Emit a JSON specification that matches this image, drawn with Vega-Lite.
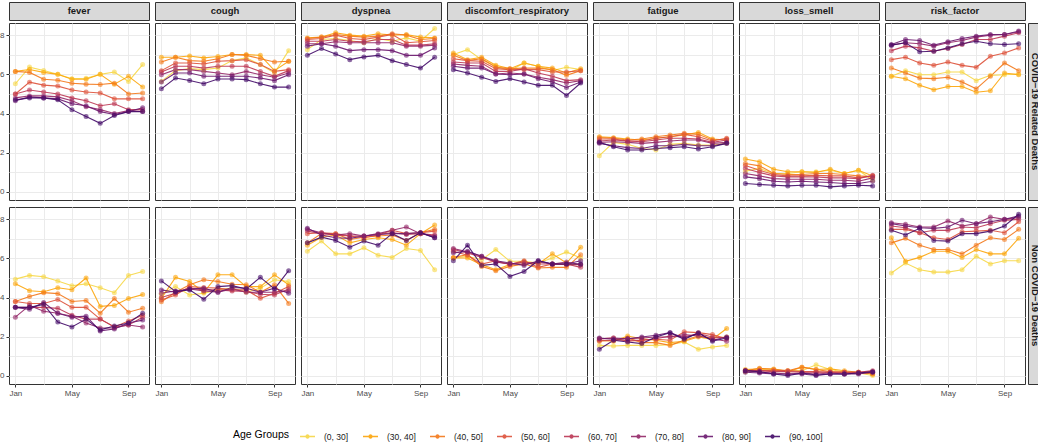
{
"$schema":"https://vega.github.io/schema/vega-lite/v6.json",
"padding":{"left":-8,"top":1,"right":0,"bottom":4},
"spacing":1,
"datasets":{
"syms":[{"sym":"fever"},{"sym":"cough"},{"sym":"dyspnea"},{"sym":"discomfort_respiratory"},{"sym":"fatigue"},{"sym":"loss_smell"},{"sym":"risk_factor"}],
"grps":[{"grp":"C","label":"COVID−19 Related Deaths"},{"grp":"N","label":"Non COVID−19 Deaths"}],
"d":[
{"sym":"fever","grp":"C","age":"(0, 30]","mo":1,"v":0.552},{"sym":"fever","grp":"C","age":"(0, 30]","mo":2,"v":0.637},{"sym":"fever","grp":"C","age":"(0, 30]","mo":3,"v":0.62},{"sym":"fever","grp":"C","age":"(0, 30]","mo":4,"v":0.6},{"sym":"fever","grp":"C","age":"(0, 30]","mo":5,"v":0.578},{"sym":"fever","grp":"C","age":"(0, 30]","mo":6,"v":0.58},{"sym":"fever","grp":"C","age":"(0, 30]","mo":7,"v":0.6},{"sym":"fever","grp":"C","age":"(0, 30]","mo":8,"v":0.612},{"sym":"fever","grp":"C","age":"(0, 30]","mo":9,"v":0.564},{"sym":"fever","grp":"C","age":"(0, 30]","mo":10,"v":0.65},
{"sym":"fever","grp":"C","age":"(30, 40]","mo":1,"v":0.615},{"sym":"fever","grp":"C","age":"(30, 40]","mo":2,"v":0.625},{"sym":"fever","grp":"C","age":"(30, 40]","mo":3,"v":0.61},{"sym":"fever","grp":"C","age":"(30, 40]","mo":4,"v":0.6},{"sym":"fever","grp":"C","age":"(30, 40]","mo":5,"v":0.575},{"sym":"fever","grp":"C","age":"(30, 40]","mo":6,"v":0.575},{"sym":"fever","grp":"C","age":"(30, 40]","mo":7,"v":0.6},{"sym":"fever","grp":"C","age":"(30, 40]","mo":8,"v":0.55},{"sym":"fever","grp":"C","age":"(30, 40]","mo":9,"v":0.59},{"sym":"fever","grp":"C","age":"(30, 40]","mo":10,"v":0.535},
{"sym":"fever","grp":"C","age":"(40, 50]","mo":1,"v":0.615},{"sym":"fever","grp":"C","age":"(40, 50]","mo":2,"v":0.61},{"sym":"fever","grp":"C","age":"(40, 50]","mo":3,"v":0.575},{"sym":"fever","grp":"C","age":"(40, 50]","mo":4,"v":0.57},{"sym":"fever","grp":"C","age":"(40, 50]","mo":5,"v":0.555},{"sym":"fever","grp":"C","age":"(40, 50]","mo":6,"v":0.55},{"sym":"fever","grp":"C","age":"(40, 50]","mo":7,"v":0.548},{"sym":"fever","grp":"C","age":"(40, 50]","mo":8,"v":0.555},{"sym":"fever","grp":"C","age":"(40, 50]","mo":9,"v":0.5},{"sym":"fever","grp":"C","age":"(40, 50]","mo":10,"v":0.505},
{"sym":"fever","grp":"C","age":"(50, 60]","mo":1,"v":0.5},{"sym":"fever","grp":"C","age":"(50, 60]","mo":2,"v":0.56},{"sym":"fever","grp":"C","age":"(50, 60]","mo":3,"v":0.545},{"sym":"fever","grp":"C","age":"(50, 60]","mo":4,"v":0.54},{"sym":"fever","grp":"C","age":"(50, 60]","mo":5,"v":0.52},{"sym":"fever","grp":"C","age":"(50, 60]","mo":6,"v":0.51},{"sym":"fever","grp":"C","age":"(50, 60]","mo":7,"v":0.505},{"sym":"fever","grp":"C","age":"(50, 60]","mo":8,"v":0.475},{"sym":"fever","grp":"C","age":"(50, 60]","mo":9,"v":0.475},{"sym":"fever","grp":"C","age":"(50, 60]","mo":10,"v":0.475},
{"sym":"fever","grp":"C","age":"(60, 70]","mo":1,"v":0.5},{"sym":"fever","grp":"C","age":"(60, 70]","mo":2,"v":0.52},{"sym":"fever","grp":"C","age":"(60, 70]","mo":3,"v":0.51},{"sym":"fever","grp":"C","age":"(60, 70]","mo":4,"v":0.5},{"sym":"fever","grp":"C","age":"(60, 70]","mo":5,"v":0.48},{"sym":"fever","grp":"C","age":"(60, 70]","mo":6,"v":0.465},{"sym":"fever","grp":"C","age":"(60, 70]","mo":7,"v":0.44},{"sym":"fever","grp":"C","age":"(60, 70]","mo":8,"v":0.45},{"sym":"fever","grp":"C","age":"(60, 70]","mo":9,"v":0.42},{"sym":"fever","grp":"C","age":"(60, 70]","mo":10,"v":0.42},
{"sym":"fever","grp":"C","age":"(70, 80]","mo":1,"v":0.48},{"sym":"fever","grp":"C","age":"(70, 80]","mo":2,"v":0.49},{"sym":"fever","grp":"C","age":"(70, 80]","mo":3,"v":0.49},{"sym":"fever","grp":"C","age":"(70, 80]","mo":4,"v":0.485},{"sym":"fever","grp":"C","age":"(70, 80]","mo":5,"v":0.465},{"sym":"fever","grp":"C","age":"(70, 80]","mo":6,"v":0.435},{"sym":"fever","grp":"C","age":"(70, 80]","mo":7,"v":0.42},{"sym":"fever","grp":"C","age":"(70, 80]","mo":8,"v":0.4},{"sym":"fever","grp":"C","age":"(70, 80]","mo":9,"v":0.415},{"sym":"fever","grp":"C","age":"(70, 80]","mo":10,"v":0.41},
{"sym":"fever","grp":"C","age":"(80, 90]","mo":1,"v":0.465},{"sym":"fever","grp":"C","age":"(80, 90]","mo":2,"v":0.485},{"sym":"fever","grp":"C","age":"(80, 90]","mo":3,"v":0.48},{"sym":"fever","grp":"C","age":"(80, 90]","mo":4,"v":0.475},{"sym":"fever","grp":"C","age":"(80, 90]","mo":5,"v":0.45},{"sym":"fever","grp":"C","age":"(80, 90]","mo":6,"v":0.44},{"sym":"fever","grp":"C","age":"(80, 90]","mo":7,"v":0.41},{"sym":"fever","grp":"C","age":"(80, 90]","mo":8,"v":0.395},{"sym":"fever","grp":"C","age":"(80, 90]","mo":9,"v":0.41},{"sym":"fever","grp":"C","age":"(80, 90]","mo":10,"v":0.43},
{"sym":"fever","grp":"C","age":"(90, 100]","mo":1,"v":0.47},{"sym":"fever","grp":"C","age":"(90, 100]","mo":2,"v":0.48},{"sym":"fever","grp":"C","age":"(90, 100]","mo":3,"v":0.48},{"sym":"fever","grp":"C","age":"(90, 100]","mo":4,"v":0.47},{"sym":"fever","grp":"C","age":"(90, 100]","mo":5,"v":0.42},{"sym":"fever","grp":"C","age":"(90, 100]","mo":6,"v":0.385},{"sym":"fever","grp":"C","age":"(90, 100]","mo":7,"v":0.35},{"sym":"fever","grp":"C","age":"(90, 100]","mo":8,"v":0.39},{"sym":"fever","grp":"C","age":"(90, 100]","mo":9,"v":0.41},{"sym":"fever","grp":"C","age":"(90, 100]","mo":10,"v":0.41},
{"sym":"fever","grp":"N","age":"(0, 30]","mo":1,"v":0.494},{"sym":"fever","grp":"N","age":"(0, 30]","mo":2,"v":0.513},{"sym":"fever","grp":"N","age":"(0, 30]","mo":3,"v":0.506},{"sym":"fever","grp":"N","age":"(0, 30]","mo":4,"v":0.484},{"sym":"fever","grp":"N","age":"(0, 30]","mo":5,"v":0.46},{"sym":"fever","grp":"N","age":"(0, 30]","mo":6,"v":0.47},{"sym":"fever","grp":"N","age":"(0, 30]","mo":7,"v":0.45},{"sym":"fever","grp":"N","age":"(0, 30]","mo":8,"v":0.425},{"sym":"fever","grp":"N","age":"(0, 30]","mo":9,"v":0.513},{"sym":"fever","grp":"N","age":"(0, 30]","mo":10,"v":0.533},
{"sym":"fever","grp":"N","age":"(30, 40]","mo":1,"v":0.47},{"sym":"fever","grp":"N","age":"(30, 40]","mo":2,"v":0.435},{"sym":"fever","grp":"N","age":"(30, 40]","mo":3,"v":0.43},{"sym":"fever","grp":"N","age":"(30, 40]","mo":4,"v":0.45},{"sym":"fever","grp":"N","age":"(30, 40]","mo":5,"v":0.44},{"sym":"fever","grp":"N","age":"(30, 40]","mo":6,"v":0.5},{"sym":"fever","grp":"N","age":"(30, 40]","mo":7,"v":0.355},{"sym":"fever","grp":"N","age":"(30, 40]","mo":8,"v":0.36},{"sym":"fever","grp":"N","age":"(30, 40]","mo":9,"v":0.395},{"sym":"fever","grp":"N","age":"(30, 40]","mo":10,"v":0.415},
{"sym":"fever","grp":"N","age":"(40, 50]","mo":1,"v":0.38},{"sym":"fever","grp":"N","age":"(40, 50]","mo":2,"v":0.405},{"sym":"fever","grp":"N","age":"(40, 50]","mo":3,"v":0.425},{"sym":"fever","grp":"N","age":"(40, 50]","mo":4,"v":0.42},{"sym":"fever","grp":"N","age":"(40, 50]","mo":5,"v":0.38},{"sym":"fever","grp":"N","age":"(40, 50]","mo":6,"v":0.385},{"sym":"fever","grp":"N","age":"(40, 50]","mo":7,"v":0.32},{"sym":"fever","grp":"N","age":"(40, 50]","mo":8,"v":0.395},{"sym":"fever","grp":"N","age":"(40, 50]","mo":9,"v":0.325},{"sym":"fever","grp":"N","age":"(40, 50]","mo":10,"v":0.345},
{"sym":"fever","grp":"N","age":"(50, 60]","mo":1,"v":0.38},{"sym":"fever","grp":"N","age":"(50, 60]","mo":2,"v":0.37},{"sym":"fever","grp":"N","age":"(50, 60]","mo":3,"v":0.37},{"sym":"fever","grp":"N","age":"(50, 60]","mo":4,"v":0.39},{"sym":"fever","grp":"N","age":"(50, 60]","mo":5,"v":0.35},{"sym":"fever","grp":"N","age":"(50, 60]","mo":6,"v":0.35},{"sym":"fever","grp":"N","age":"(50, 60]","mo":7,"v":0.29},{"sym":"fever","grp":"N","age":"(50, 60]","mo":8,"v":0.25},{"sym":"fever","grp":"N","age":"(50, 60]","mo":9,"v":0.28},{"sym":"fever","grp":"N","age":"(50, 60]","mo":10,"v":0.31},
{"sym":"fever","grp":"N","age":"(60, 70]","mo":1,"v":0.35},{"sym":"fever","grp":"N","age":"(60, 70]","mo":2,"v":0.35},{"sym":"fever","grp":"N","age":"(60, 70]","mo":3,"v":0.35},{"sym":"fever","grp":"N","age":"(60, 70]","mo":4,"v":0.345},{"sym":"fever","grp":"N","age":"(60, 70]","mo":5,"v":0.31},{"sym":"fever","grp":"N","age":"(60, 70]","mo":6,"v":0.29},{"sym":"fever","grp":"N","age":"(60, 70]","mo":7,"v":0.29},{"sym":"fever","grp":"N","age":"(60, 70]","mo":8,"v":0.25},{"sym":"fever","grp":"N","age":"(60, 70]","mo":9,"v":0.26},{"sym":"fever","grp":"N","age":"(60, 70]","mo":10,"v":0.3},
{"sym":"fever","grp":"N","age":"(70, 80]","mo":1,"v":0.3},{"sym":"fever","grp":"N","age":"(70, 80]","mo":2,"v":0.36},{"sym":"fever","grp":"N","age":"(70, 80]","mo":3,"v":0.33},{"sym":"fever","grp":"N","age":"(70, 80]","mo":4,"v":0.32},{"sym":"fever","grp":"N","age":"(70, 80]","mo":5,"v":0.305},{"sym":"fever","grp":"N","age":"(70, 80]","mo":6,"v":0.27},{"sym":"fever","grp":"N","age":"(70, 80]","mo":7,"v":0.245},{"sym":"fever","grp":"N","age":"(70, 80]","mo":8,"v":0.245},{"sym":"fever","grp":"N","age":"(70, 80]","mo":9,"v":0.26},{"sym":"fever","grp":"N","age":"(70, 80]","mo":10,"v":0.25},
{"sym":"fever","grp":"N","age":"(80, 90]","mo":1,"v":0.35},{"sym":"fever","grp":"N","age":"(80, 90]","mo":2,"v":0.34},{"sym":"fever","grp":"N","age":"(80, 90]","mo":3,"v":0.375},{"sym":"fever","grp":"N","age":"(80, 90]","mo":4,"v":0.32},{"sym":"fever","grp":"N","age":"(80, 90]","mo":5,"v":0.3},{"sym":"fever","grp":"N","age":"(80, 90]","mo":6,"v":0.305},{"sym":"fever","grp":"N","age":"(80, 90]","mo":7,"v":0.23},{"sym":"fever","grp":"N","age":"(80, 90]","mo":8,"v":0.24},{"sym":"fever","grp":"N","age":"(80, 90]","mo":9,"v":0.27},{"sym":"fever","grp":"N","age":"(80, 90]","mo":10,"v":0.285},
{"sym":"fever","grp":"N","age":"(90, 100]","mo":1,"v":0.35},{"sym":"fever","grp":"N","age":"(90, 100]","mo":2,"v":0.35},{"sym":"fever","grp":"N","age":"(90, 100]","mo":3,"v":0.365},{"sym":"fever","grp":"N","age":"(90, 100]","mo":4,"v":0.275},{"sym":"fever","grp":"N","age":"(90, 100]","mo":5,"v":0.25},{"sym":"fever","grp":"N","age":"(90, 100]","mo":6,"v":0.29},{"sym":"fever","grp":"N","age":"(90, 100]","mo":7,"v":0.235},{"sym":"fever","grp":"N","age":"(90, 100]","mo":8,"v":0.255},{"sym":"fever","grp":"N","age":"(90, 100]","mo":9,"v":0.27},{"sym":"fever","grp":"N","age":"(90, 100]","mo":10,"v":0.32},
{"sym":"cough","grp":"C","age":"(0, 30]","mo":1,"v":0.564},{"sym":"cough","grp":"C","age":"(0, 30]","mo":2,"v":0.619},{"sym":"cough","grp":"C","age":"(0, 30]","mo":3,"v":0.629},{"sym":"cough","grp":"C","age":"(0, 30]","mo":4,"v":0.624},{"sym":"cough","grp":"C","age":"(0, 30]","mo":5,"v":0.632},{"sym":"cough","grp":"C","age":"(0, 30]","mo":6,"v":0.67},{"sym":"cough","grp":"C","age":"(0, 30]","mo":7,"v":0.684},{"sym":"cough","grp":"C","age":"(0, 30]","mo":8,"v":0.65},{"sym":"cough","grp":"C","age":"(0, 30]","mo":9,"v":0.607},{"sym":"cough","grp":"C","age":"(0, 30]","mo":10,"v":0.721},
{"sym":"cough","grp":"C","age":"(30, 40]","mo":1,"v":0.687},{"sym":"cough","grp":"C","age":"(30, 40]","mo":2,"v":0.687},{"sym":"cough","grp":"C","age":"(30, 40]","mo":3,"v":0.694},{"sym":"cough","grp":"C","age":"(30, 40]","mo":4,"v":0.684},{"sym":"cough","grp":"C","age":"(30, 40]","mo":5,"v":0.691},{"sym":"cough","grp":"C","age":"(30, 40]","mo":6,"v":0.701},{"sym":"cough","grp":"C","age":"(30, 40]","mo":7,"v":0.701},{"sym":"cough","grp":"C","age":"(30, 40]","mo":8,"v":0.697},{"sym":"cough","grp":"C","age":"(30, 40]","mo":9,"v":0.619},{"sym":"cough","grp":"C","age":"(30, 40]","mo":10,"v":0.667},
{"sym":"cough","grp":"C","age":"(40, 50]","mo":1,"v":0.663},{"sym":"cough","grp":"C","age":"(40, 50]","mo":2,"v":0.687},{"sym":"cough","grp":"C","age":"(40, 50]","mo":3,"v":0.67},{"sym":"cough","grp":"C","age":"(40, 50]","mo":4,"v":0.667},{"sym":"cough","grp":"C","age":"(40, 50]","mo":5,"v":0.68},{"sym":"cough","grp":"C","age":"(40, 50]","mo":6,"v":0.701},{"sym":"cough","grp":"C","age":"(40, 50]","mo":7,"v":0.697},{"sym":"cough","grp":"C","age":"(40, 50]","mo":8,"v":0.68},{"sym":"cough","grp":"C","age":"(40, 50]","mo":9,"v":0.663},{"sym":"cough","grp":"C","age":"(40, 50]","mo":10,"v":0.667},
{"sym":"cough","grp":"C","age":"(50, 60]","mo":1,"v":0.619},{"sym":"cough","grp":"C","age":"(50, 60]","mo":2,"v":0.658},{"sym":"cough","grp":"C","age":"(50, 60]","mo":3,"v":0.658},{"sym":"cough","grp":"C","age":"(50, 60]","mo":4,"v":0.653},{"sym":"cough","grp":"C","age":"(50, 60]","mo":5,"v":0.667},{"sym":"cough","grp":"C","age":"(50, 60]","mo":6,"v":0.67},{"sym":"cough","grp":"C","age":"(50, 60]","mo":7,"v":0.675},{"sym":"cough","grp":"C","age":"(50, 60]","mo":8,"v":0.65},{"sym":"cough","grp":"C","age":"(50, 60]","mo":9,"v":0.615},{"sym":"cough","grp":"C","age":"(50, 60]","mo":10,"v":0.624},
{"sym":"cough","grp":"C","age":"(60, 70]","mo":1,"v":0.612},{"sym":"cough","grp":"C","age":"(60, 70]","mo":2,"v":0.641},{"sym":"cough","grp":"C","age":"(60, 70]","mo":3,"v":0.641},{"sym":"cough","grp":"C","age":"(60, 70]","mo":4,"v":0.632},{"sym":"cough","grp":"C","age":"(60, 70]","mo":5,"v":0.641},{"sym":"cough","grp":"C","age":"(60, 70]","mo":6,"v":0.641},{"sym":"cough","grp":"C","age":"(60, 70]","mo":7,"v":0.641},{"sym":"cough","grp":"C","age":"(60, 70]","mo":8,"v":0.615},{"sym":"cough","grp":"C","age":"(60, 70]","mo":9,"v":0.59},{"sym":"cough","grp":"C","age":"(60, 70]","mo":10,"v":0.619},
{"sym":"cough","grp":"C","age":"(70, 80]","mo":1,"v":0.598},{"sym":"cough","grp":"C","age":"(70, 80]","mo":2,"v":0.624},{"sym":"cough","grp":"C","age":"(70, 80]","mo":3,"v":0.624},{"sym":"cough","grp":"C","age":"(70, 80]","mo":4,"v":0.615},{"sym":"cough","grp":"C","age":"(70, 80]","mo":5,"v":0.607},{"sym":"cough","grp":"C","age":"(70, 80]","mo":6,"v":0.598},{"sym":"cough","grp":"C","age":"(70, 80]","mo":7,"v":0.615},{"sym":"cough","grp":"C","age":"(70, 80]","mo":8,"v":0.598},{"sym":"cough","grp":"C","age":"(70, 80]","mo":9,"v":0.585},{"sym":"cough","grp":"C","age":"(70, 80]","mo":10,"v":0.607},
{"sym":"cough","grp":"C","age":"(80, 90]","mo":1,"v":0.561},{"sym":"cough","grp":"C","age":"(80, 90]","mo":2,"v":0.607},{"sym":"cough","grp":"C","age":"(80, 90]","mo":3,"v":0.607},{"sym":"cough","grp":"C","age":"(80, 90]","mo":4,"v":0.59},{"sym":"cough","grp":"C","age":"(80, 90]","mo":5,"v":0.59},{"sym":"cough","grp":"C","age":"(80, 90]","mo":6,"v":0.59},{"sym":"cough","grp":"C","age":"(80, 90]","mo":7,"v":0.59},{"sym":"cough","grp":"C","age":"(80, 90]","mo":8,"v":0.581},{"sym":"cough","grp":"C","age":"(80, 90]","mo":9,"v":0.568},{"sym":"cough","grp":"C","age":"(80, 90]","mo":10,"v":0.598},
{"sym":"cough","grp":"C","age":"(90, 100]","mo":1,"v":0.526},{"sym":"cough","grp":"C","age":"(90, 100]","mo":2,"v":0.581},{"sym":"cough","grp":"C","age":"(90, 100]","mo":3,"v":0.569},{"sym":"cough","grp":"C","age":"(90, 100]","mo":4,"v":0.552},{"sym":"cough","grp":"C","age":"(90, 100]","mo":5,"v":0.576},{"sym":"cough","grp":"C","age":"(90, 100]","mo":6,"v":0.576},{"sym":"cough","grp":"C","age":"(90, 100]","mo":7,"v":0.573},{"sym":"cough","grp":"C","age":"(90, 100]","mo":8,"v":0.552},{"sym":"cough","grp":"C","age":"(90, 100]","mo":9,"v":0.535},{"sym":"cough","grp":"C","age":"(90, 100]","mo":10,"v":0.535},
{"sym":"cough","grp":"N","age":"(0, 30]","mo":1,"v":0.417},{"sym":"cough","grp":"N","age":"(0, 30]","mo":2,"v":0.456},{"sym":"cough","grp":"N","age":"(0, 30]","mo":3,"v":0.413},{"sym":"cough","grp":"N","age":"(0, 30]","mo":4,"v":0.422},{"sym":"cough","grp":"N","age":"(0, 30]","mo":5,"v":0.439},{"sym":"cough","grp":"N","age":"(0, 30]","mo":6,"v":0.448},{"sym":"cough","grp":"N","age":"(0, 30]","mo":7,"v":0.427},{"sym":"cough","grp":"N","age":"(0, 30]","mo":8,"v":0.448},{"sym":"cough","grp":"N","age":"(0, 30]","mo":9,"v":0.491},{"sym":"cough","grp":"N","age":"(0, 30]","mo":10,"v":0.482},
{"sym":"cough","grp":"N","age":"(30, 40]","mo":1,"v":0.396},{"sym":"cough","grp":"N","age":"(30, 40]","mo":2,"v":0.503},{"sym":"cough","grp":"N","age":"(30, 40]","mo":3,"v":0.482},{"sym":"cough","grp":"N","age":"(30, 40]","mo":4,"v":0.427},{"sym":"cough","grp":"N","age":"(30, 40]","mo":5,"v":0.516},{"sym":"cough","grp":"N","age":"(30, 40]","mo":6,"v":0.516},{"sym":"cough","grp":"N","age":"(30, 40]","mo":7,"v":0.456},{"sym":"cough","grp":"N","age":"(30, 40]","mo":8,"v":0.456},{"sym":"cough","grp":"N","age":"(30, 40]","mo":9,"v":0.516},{"sym":"cough","grp":"N","age":"(30, 40]","mo":10,"v":0.465},
{"sym":"cough","grp":"N","age":"(40, 50]","mo":1,"v":0.379},{"sym":"cough","grp":"N","age":"(40, 50]","mo":2,"v":0.427},{"sym":"cough","grp":"N","age":"(40, 50]","mo":3,"v":0.465},{"sym":"cough","grp":"N","age":"(40, 50]","mo":4,"v":0.491},{"sym":"cough","grp":"N","age":"(40, 50]","mo":5,"v":0.482},{"sym":"cough","grp":"N","age":"(40, 50]","mo":6,"v":0.468},{"sym":"cough","grp":"N","age":"(40, 50]","mo":7,"v":0.465},{"sym":"cough","grp":"N","age":"(40, 50]","mo":8,"v":0.427},{"sym":"cough","grp":"N","age":"(40, 50]","mo":9,"v":0.465},{"sym":"cough","grp":"N","age":"(40, 50]","mo":10,"v":0.37},
{"sym":"cough","grp":"N","age":"(50, 60]","mo":1,"v":0.388},{"sym":"cough","grp":"N","age":"(50, 60]","mo":2,"v":0.413},{"sym":"cough","grp":"N","age":"(50, 60]","mo":3,"v":0.456},{"sym":"cough","grp":"N","age":"(50, 60]","mo":4,"v":0.451},{"sym":"cough","grp":"N","age":"(50, 60]","mo":5,"v":0.448},{"sym":"cough","grp":"N","age":"(50, 60]","mo":6,"v":0.439},{"sym":"cough","grp":"N","age":"(50, 60]","mo":7,"v":0.439},{"sym":"cough","grp":"N","age":"(50, 60]","mo":8,"v":0.396},{"sym":"cough","grp":"N","age":"(50, 60]","mo":9,"v":0.422},{"sym":"cough","grp":"N","age":"(50, 60]","mo":10,"v":0.456},
{"sym":"cough","grp":"N","age":"(60, 70]","mo":1,"v":0.4},{"sym":"cough","grp":"N","age":"(60, 70]","mo":2,"v":0.422},{"sym":"cough","grp":"N","age":"(60, 70]","mo":3,"v":0.448},{"sym":"cough","grp":"N","age":"(60, 70]","mo":4,"v":0.439},{"sym":"cough","grp":"N","age":"(60, 70]","mo":5,"v":0.439},{"sym":"cough","grp":"N","age":"(60, 70]","mo":6,"v":0.434},{"sym":"cough","grp":"N","age":"(60, 70]","mo":7,"v":0.431},{"sym":"cough","grp":"N","age":"(60, 70]","mo":8,"v":0.417},{"sym":"cough","grp":"N","age":"(60, 70]","mo":9,"v":0.413},{"sym":"cough","grp":"N","age":"(60, 70]","mo":10,"v":0.444},
{"sym":"cough","grp":"N","age":"(70, 80]","mo":1,"v":0.422},{"sym":"cough","grp":"N","age":"(70, 80]","mo":2,"v":0.434},{"sym":"cough","grp":"N","age":"(70, 80]","mo":3,"v":0.444},{"sym":"cough","grp":"N","age":"(70, 80]","mo":4,"v":0.434},{"sym":"cough","grp":"N","age":"(70, 80]","mo":5,"v":0.427},{"sym":"cough","grp":"N","age":"(70, 80]","mo":6,"v":0.444},{"sym":"cough","grp":"N","age":"(70, 80]","mo":7,"v":0.427},{"sym":"cough","grp":"N","age":"(70, 80]","mo":8,"v":0.427},{"sym":"cough","grp":"N","age":"(70, 80]","mo":9,"v":0.427},{"sym":"cough","grp":"N","age":"(70, 80]","mo":10,"v":0.434},
{"sym":"cough","grp":"N","age":"(80, 90]","mo":1,"v":0.439},{"sym":"cough","grp":"N","age":"(80, 90]","mo":2,"v":0.427},{"sym":"cough","grp":"N","age":"(80, 90]","mo":3,"v":0.444},{"sym":"cough","grp":"N","age":"(80, 90]","mo":4,"v":0.448},{"sym":"cough","grp":"N","age":"(80, 90]","mo":5,"v":0.427},{"sym":"cough","grp":"N","age":"(80, 90]","mo":6,"v":0.451},{"sym":"cough","grp":"N","age":"(80, 90]","mo":7,"v":0.448},{"sym":"cough","grp":"N","age":"(80, 90]","mo":8,"v":0.427},{"sym":"cough","grp":"N","age":"(80, 90]","mo":9,"v":0.448},{"sym":"cough","grp":"N","age":"(80, 90]","mo":10,"v":0.422},
{"sym":"cough","grp":"N","age":"(90, 100]","mo":1,"v":0.485},{"sym":"cough","grp":"N","age":"(90, 100]","mo":2,"v":0.431},{"sym":"cough","grp":"N","age":"(90, 100]","mo":3,"v":0.439},{"sym":"cough","grp":"N","age":"(90, 100]","mo":4,"v":0.391},{"sym":"cough","grp":"N","age":"(90, 100]","mo":5,"v":0.456},{"sym":"cough","grp":"N","age":"(90, 100]","mo":6,"v":0.461},{"sym":"cough","grp":"N","age":"(90, 100]","mo":7,"v":0.444},{"sym":"cough","grp":"N","age":"(90, 100]","mo":8,"v":0.503},{"sym":"cough","grp":"N","age":"(90, 100]","mo":9,"v":0.444},{"sym":"cough","grp":"N","age":"(90, 100]","mo":10,"v":0.537},
{"sym":"dyspnea","grp":"C","age":"(0, 30]","mo":1,"v":0.726},{"sym":"dyspnea","grp":"C","age":"(0, 30]","mo":2,"v":0.778},{"sym":"dyspnea","grp":"C","age":"(0, 30]","mo":3,"v":0.783},{"sym":"dyspnea","grp":"C","age":"(0, 30]","mo":4,"v":0.773},{"sym":"dyspnea","grp":"C","age":"(0, 30]","mo":5,"v":0.761},{"sym":"dyspnea","grp":"C","age":"(0, 30]","mo":6,"v":0.783},{"sym":"dyspnea","grp":"C","age":"(0, 30]","mo":7,"v":0.769},{"sym":"dyspnea","grp":"C","age":"(0, 30]","mo":8,"v":0.786},{"sym":"dyspnea","grp":"C","age":"(0, 30]","mo":9,"v":0.769},{"sym":"dyspnea","grp":"C","age":"(0, 30]","mo":10,"v":0.834},
{"sym":"dyspnea","grp":"C","age":"(30, 40]","mo":1,"v":0.786},{"sym":"dyspnea","grp":"C","age":"(30, 40]","mo":2,"v":0.79},{"sym":"dyspnea","grp":"C","age":"(30, 40]","mo":3,"v":0.812},{"sym":"dyspnea","grp":"C","age":"(30, 40]","mo":4,"v":0.8},{"sym":"dyspnea","grp":"C","age":"(30, 40]","mo":5,"v":0.795},{"sym":"dyspnea","grp":"C","age":"(30, 40]","mo":6,"v":0.807},{"sym":"dyspnea","grp":"C","age":"(30, 40]","mo":7,"v":0.8},{"sym":"dyspnea","grp":"C","age":"(30, 40]","mo":8,"v":0.803},{"sym":"dyspnea","grp":"C","age":"(30, 40]","mo":9,"v":0.79},{"sym":"dyspnea","grp":"C","age":"(30, 40]","mo":10,"v":0.786},
{"sym":"dyspnea","grp":"C","age":"(40, 50]","mo":1,"v":0.783},{"sym":"dyspnea","grp":"C","age":"(40, 50]","mo":2,"v":0.79},{"sym":"dyspnea","grp":"C","age":"(40, 50]","mo":3,"v":0.803},{"sym":"dyspnea","grp":"C","age":"(40, 50]","mo":4,"v":0.795},{"sym":"dyspnea","grp":"C","age":"(40, 50]","mo":5,"v":0.79},{"sym":"dyspnea","grp":"C","age":"(40, 50]","mo":6,"v":0.795},{"sym":"dyspnea","grp":"C","age":"(40, 50]","mo":7,"v":0.807},{"sym":"dyspnea","grp":"C","age":"(40, 50]","mo":8,"v":0.8},{"sym":"dyspnea","grp":"C","age":"(40, 50]","mo":9,"v":0.778},{"sym":"dyspnea","grp":"C","age":"(40, 50]","mo":10,"v":0.783},
{"sym":"dyspnea","grp":"C","age":"(50, 60]","mo":1,"v":0.778},{"sym":"dyspnea","grp":"C","age":"(50, 60]","mo":2,"v":0.783},{"sym":"dyspnea","grp":"C","age":"(50, 60]","mo":3,"v":0.8},{"sym":"dyspnea","grp":"C","age":"(50, 60]","mo":4,"v":0.783},{"sym":"dyspnea","grp":"C","age":"(50, 60]","mo":5,"v":0.778},{"sym":"dyspnea","grp":"C","age":"(50, 60]","mo":6,"v":0.79},{"sym":"dyspnea","grp":"C","age":"(50, 60]","mo":7,"v":0.803},{"sym":"dyspnea","grp":"C","age":"(50, 60]","mo":8,"v":0.761},{"sym":"dyspnea","grp":"C","age":"(50, 60]","mo":9,"v":0.766},{"sym":"dyspnea","grp":"C","age":"(50, 60]","mo":10,"v":0.773},
{"sym":"dyspnea","grp":"C","age":"(60, 70]","mo":1,"v":0.769},{"sym":"dyspnea","grp":"C","age":"(60, 70]","mo":2,"v":0.769},{"sym":"dyspnea","grp":"C","age":"(60, 70]","mo":3,"v":0.778},{"sym":"dyspnea","grp":"C","age":"(60, 70]","mo":4,"v":0.769},{"sym":"dyspnea","grp":"C","age":"(60, 70]","mo":5,"v":0.766},{"sym":"dyspnea","grp":"C","age":"(60, 70]","mo":6,"v":0.778},{"sym":"dyspnea","grp":"C","age":"(60, 70]","mo":7,"v":0.778},{"sym":"dyspnea","grp":"C","age":"(60, 70]","mo":8,"v":0.749},{"sym":"dyspnea","grp":"C","age":"(60, 70]","mo":9,"v":0.749},{"sym":"dyspnea","grp":"C","age":"(60, 70]","mo":10,"v":0.756},
{"sym":"dyspnea","grp":"C","age":"(70, 80]","mo":1,"v":0.756},{"sym":"dyspnea","grp":"C","age":"(70, 80]","mo":2,"v":0.756},{"sym":"dyspnea","grp":"C","age":"(70, 80]","mo":3,"v":0.766},{"sym":"dyspnea","grp":"C","age":"(70, 80]","mo":4,"v":0.761},{"sym":"dyspnea","grp":"C","age":"(70, 80]","mo":5,"v":0.761},{"sym":"dyspnea","grp":"C","age":"(70, 80]","mo":6,"v":0.761},{"sym":"dyspnea","grp":"C","age":"(70, 80]","mo":7,"v":0.761},{"sym":"dyspnea","grp":"C","age":"(70, 80]","mo":8,"v":0.744},{"sym":"dyspnea","grp":"C","age":"(70, 80]","mo":9,"v":0.744},{"sym":"dyspnea","grp":"C","age":"(70, 80]","mo":10,"v":0.749},
{"sym":"dyspnea","grp":"C","age":"(80, 90]","mo":1,"v":0.744},{"sym":"dyspnea","grp":"C","age":"(80, 90]","mo":2,"v":0.756},{"sym":"dyspnea","grp":"C","age":"(80, 90]","mo":3,"v":0.744},{"sym":"dyspnea","grp":"C","age":"(80, 90]","mo":4,"v":0.721},{"sym":"dyspnea","grp":"C","age":"(80, 90]","mo":5,"v":0.726},{"sym":"dyspnea","grp":"C","age":"(80, 90]","mo":6,"v":0.726},{"sym":"dyspnea","grp":"C","age":"(80, 90]","mo":7,"v":0.721},{"sym":"dyspnea","grp":"C","age":"(80, 90]","mo":8,"v":0.697},{"sym":"dyspnea","grp":"C","age":"(80, 90]","mo":9,"v":0.697},{"sym":"dyspnea","grp":"C","age":"(80, 90]","mo":10,"v":0.735},
{"sym":"dyspnea","grp":"C","age":"(90, 100]","mo":1,"v":0.697},{"sym":"dyspnea","grp":"C","age":"(90, 100]","mo":2,"v":0.732},{"sym":"dyspnea","grp":"C","age":"(90, 100]","mo":3,"v":0.704},{"sym":"dyspnea","grp":"C","age":"(90, 100]","mo":4,"v":0.675},{"sym":"dyspnea","grp":"C","age":"(90, 100]","mo":5,"v":0.689},{"sym":"dyspnea","grp":"C","age":"(90, 100]","mo":6,"v":0.697},{"sym":"dyspnea","grp":"C","age":"(90, 100]","mo":7,"v":0.67},{"sym":"dyspnea","grp":"C","age":"(90, 100]","mo":8,"v":0.65},{"sym":"dyspnea","grp":"C","age":"(90, 100]","mo":9,"v":0.632},{"sym":"dyspnea","grp":"C","age":"(90, 100]","mo":10,"v":0.687},
{"sym":"dyspnea","grp":"N","age":"(0, 30]","mo":1,"v":0.636},{"sym":"dyspnea","grp":"N","age":"(0, 30]","mo":2,"v":0.688},{"sym":"dyspnea","grp":"N","age":"(0, 30]","mo":3,"v":0.623},{"sym":"dyspnea","grp":"N","age":"(0, 30]","mo":4,"v":0.623},{"sym":"dyspnea","grp":"N","age":"(0, 30]","mo":5,"v":0.654},{"sym":"dyspnea","grp":"N","age":"(0, 30]","mo":6,"v":0.616},{"sym":"dyspnea","grp":"N","age":"(0, 30]","mo":7,"v":0.605},{"sym":"dyspnea","grp":"N","age":"(0, 30]","mo":8,"v":0.65},{"sym":"dyspnea","grp":"N","age":"(0, 30]","mo":9,"v":0.64},{"sym":"dyspnea","grp":"N","age":"(0, 30]","mo":10,"v":0.542},
{"sym":"dyspnea","grp":"N","age":"(30, 40]","mo":1,"v":0.667},{"sym":"dyspnea","grp":"N","age":"(30, 40]","mo":2,"v":0.708},{"sym":"dyspnea","grp":"N","age":"(30, 40]","mo":3,"v":0.719},{"sym":"dyspnea","grp":"N","age":"(30, 40]","mo":4,"v":0.679},{"sym":"dyspnea","grp":"N","age":"(30, 40]","mo":5,"v":0.696},{"sym":"dyspnea","grp":"N","age":"(30, 40]","mo":6,"v":0.705},{"sym":"dyspnea","grp":"N","age":"(30, 40]","mo":7,"v":0.696},{"sym":"dyspnea","grp":"N","age":"(30, 40]","mo":8,"v":0.667},{"sym":"dyspnea","grp":"N","age":"(30, 40]","mo":9,"v":0.726},{"sym":"dyspnea","grp":"N","age":"(30, 40]","mo":10,"v":0.77},
{"sym":"dyspnea","grp":"N","age":"(40, 50]","mo":1,"v":0.679},{"sym":"dyspnea","grp":"N","age":"(40, 50]","mo":2,"v":0.726},{"sym":"dyspnea","grp":"N","age":"(40, 50]","mo":3,"v":0.726},{"sym":"dyspnea","grp":"N","age":"(40, 50]","mo":4,"v":0.696},{"sym":"dyspnea","grp":"N","age":"(40, 50]","mo":5,"v":0.708},{"sym":"dyspnea","grp":"N","age":"(40, 50]","mo":6,"v":0.714},{"sym":"dyspnea","grp":"N","age":"(40, 50]","mo":7,"v":0.719},{"sym":"dyspnea","grp":"N","age":"(40, 50]","mo":8,"v":0.691},{"sym":"dyspnea","grp":"N","age":"(40, 50]","mo":9,"v":0.731},{"sym":"dyspnea","grp":"N","age":"(40, 50]","mo":10,"v":0.748},
{"sym":"dyspnea","grp":"N","age":"(50, 60]","mo":1,"v":0.726},{"sym":"dyspnea","grp":"N","age":"(50, 60]","mo":2,"v":0.731},{"sym":"dyspnea","grp":"N","age":"(50, 60]","mo":3,"v":0.726},{"sym":"dyspnea","grp":"N","age":"(50, 60]","mo":4,"v":0.714},{"sym":"dyspnea","grp":"N","age":"(50, 60]","mo":5,"v":0.705},{"sym":"dyspnea","grp":"N","age":"(50, 60]","mo":6,"v":0.719},{"sym":"dyspnea","grp":"N","age":"(50, 60]","mo":7,"v":0.743},{"sym":"dyspnea","grp":"N","age":"(50, 60]","mo":8,"v":0.726},{"sym":"dyspnea","grp":"N","age":"(50, 60]","mo":9,"v":0.731},{"sym":"dyspnea","grp":"N","age":"(50, 60]","mo":10,"v":0.739},
{"sym":"dyspnea","grp":"N","age":"(60, 70]","mo":1,"v":0.739},{"sym":"dyspnea","grp":"N","age":"(60, 70]","mo":2,"v":0.726},{"sym":"dyspnea","grp":"N","age":"(60, 70]","mo":3,"v":0.719},{"sym":"dyspnea","grp":"N","age":"(60, 70]","mo":4,"v":0.714},{"sym":"dyspnea","grp":"N","age":"(60, 70]","mo":5,"v":0.714},{"sym":"dyspnea","grp":"N","age":"(60, 70]","mo":6,"v":0.722},{"sym":"dyspnea","grp":"N","age":"(60, 70]","mo":7,"v":0.731},{"sym":"dyspnea","grp":"N","age":"(60, 70]","mo":8,"v":0.722},{"sym":"dyspnea","grp":"N","age":"(60, 70]","mo":9,"v":0.726},{"sym":"dyspnea","grp":"N","age":"(60, 70]","mo":10,"v":0.719},
{"sym":"dyspnea","grp":"N","age":"(70, 80]","mo":1,"v":0.748},{"sym":"dyspnea","grp":"N","age":"(70, 80]","mo":2,"v":0.731},{"sym":"dyspnea","grp":"N","age":"(70, 80]","mo":3,"v":0.719},{"sym":"dyspnea","grp":"N","age":"(70, 80]","mo":4,"v":0.726},{"sym":"dyspnea","grp":"N","age":"(70, 80]","mo":5,"v":0.714},{"sym":"dyspnea","grp":"N","age":"(70, 80]","mo":6,"v":0.726},{"sym":"dyspnea","grp":"N","age":"(70, 80]","mo":7,"v":0.743},{"sym":"dyspnea","grp":"N","age":"(70, 80]","mo":8,"v":0.76},{"sym":"dyspnea","grp":"N","age":"(70, 80]","mo":9,"v":0.726},{"sym":"dyspnea","grp":"N","age":"(70, 80]","mo":10,"v":0.714},
{"sym":"dyspnea","grp":"N","age":"(80, 90]","mo":1,"v":0.753},{"sym":"dyspnea","grp":"N","age":"(80, 90]","mo":2,"v":0.719},{"sym":"dyspnea","grp":"N","age":"(80, 90]","mo":3,"v":0.705},{"sym":"dyspnea","grp":"N","age":"(80, 90]","mo":4,"v":0.702},{"sym":"dyspnea","grp":"N","age":"(80, 90]","mo":5,"v":0.714},{"sym":"dyspnea","grp":"N","age":"(80, 90]","mo":6,"v":0.722},{"sym":"dyspnea","grp":"N","age":"(80, 90]","mo":7,"v":0.726},{"sym":"dyspnea","grp":"N","age":"(80, 90]","mo":8,"v":0.726},{"sym":"dyspnea","grp":"N","age":"(80, 90]","mo":9,"v":0.731},{"sym":"dyspnea","grp":"N","age":"(80, 90]","mo":10,"v":0.705},
{"sym":"dyspnea","grp":"N","age":"(90, 100]","mo":1,"v":0.679},{"sym":"dyspnea","grp":"N","age":"(90, 100]","mo":2,"v":0.708},{"sym":"dyspnea","grp":"N","age":"(90, 100]","mo":3,"v":0.691},{"sym":"dyspnea","grp":"N","age":"(90, 100]","mo":4,"v":0.657},{"sym":"dyspnea","grp":"N","age":"(90, 100]","mo":5,"v":0.688},{"sym":"dyspnea","grp":"N","age":"(90, 100]","mo":6,"v":0.667},{"sym":"dyspnea","grp":"N","age":"(90, 100]","mo":7,"v":0.726},{"sym":"dyspnea","grp":"N","age":"(90, 100]","mo":8,"v":0.691},{"sym":"dyspnea","grp":"N","age":"(90, 100]","mo":9,"v":0.731},{"sym":"dyspnea","grp":"N","age":"(90, 100]","mo":10,"v":0.705},
{"sym":"discomfort_respiratory","grp":"C","age":"(0, 30]","mo":1,"v":0.701},{"sym":"discomfort_respiratory","grp":"C","age":"(0, 30]","mo":2,"v":0.726},{"sym":"discomfort_respiratory","grp":"C","age":"(0, 30]","mo":3,"v":0.675},{"sym":"discomfort_respiratory","grp":"C","age":"(0, 30]","mo":4,"v":0.641},{"sym":"discomfort_respiratory","grp":"C","age":"(0, 30]","mo":5,"v":0.619},{"sym":"discomfort_respiratory","grp":"C","age":"(0, 30]","mo":6,"v":0.658},{"sym":"discomfort_respiratory","grp":"C","age":"(0, 30]","mo":7,"v":0.641},{"sym":"discomfort_respiratory","grp":"C","age":"(0, 30]","mo":8,"v":0.619},{"sym":"discomfort_respiratory","grp":"C","age":"(0, 30]","mo":9,"v":0.636},{"sym":"discomfort_respiratory","grp":"C","age":"(0, 30]","mo":10,"v":0.624},
{"sym":"discomfort_respiratory","grp":"C","age":"(30, 40]","mo":1,"v":0.709},{"sym":"discomfort_respiratory","grp":"C","age":"(30, 40]","mo":2,"v":0.675},{"sym":"discomfort_respiratory","grp":"C","age":"(30, 40]","mo":3,"v":0.687},{"sym":"discomfort_respiratory","grp":"C","age":"(30, 40]","mo":4,"v":0.646},{"sym":"discomfort_respiratory","grp":"C","age":"(30, 40]","mo":5,"v":0.629},{"sym":"discomfort_respiratory","grp":"C","age":"(30, 40]","mo":6,"v":0.658},{"sym":"discomfort_respiratory","grp":"C","age":"(30, 40]","mo":7,"v":0.641},{"sym":"discomfort_respiratory","grp":"C","age":"(30, 40]","mo":8,"v":0.632},{"sym":"discomfort_respiratory","grp":"C","age":"(30, 40]","mo":9,"v":0.607},{"sym":"discomfort_respiratory","grp":"C","age":"(30, 40]","mo":10,"v":0.629},
{"sym":"discomfort_respiratory","grp":"C","age":"(40, 50]","mo":1,"v":0.697},{"sym":"discomfort_respiratory","grp":"C","age":"(40, 50]","mo":2,"v":0.67},{"sym":"discomfort_respiratory","grp":"C","age":"(40, 50]","mo":3,"v":0.68},{"sym":"discomfort_respiratory","grp":"C","age":"(40, 50]","mo":4,"v":0.636},{"sym":"discomfort_respiratory","grp":"C","age":"(40, 50]","mo":5,"v":0.629},{"sym":"discomfort_respiratory","grp":"C","age":"(40, 50]","mo":6,"v":0.632},{"sym":"discomfort_respiratory","grp":"C","age":"(40, 50]","mo":7,"v":0.632},{"sym":"discomfort_respiratory","grp":"C","age":"(40, 50]","mo":8,"v":0.624},{"sym":"discomfort_respiratory","grp":"C","age":"(40, 50]","mo":9,"v":0.595},{"sym":"discomfort_respiratory","grp":"C","age":"(40, 50]","mo":10,"v":0.619},
{"sym":"discomfort_respiratory","grp":"C","age":"(50, 60]","mo":1,"v":0.68},{"sym":"discomfort_respiratory","grp":"C","age":"(50, 60]","mo":2,"v":0.67},{"sym":"discomfort_respiratory","grp":"C","age":"(50, 60]","mo":3,"v":0.667},{"sym":"discomfort_respiratory","grp":"C","age":"(50, 60]","mo":4,"v":0.629},{"sym":"discomfort_respiratory","grp":"C","age":"(50, 60]","mo":5,"v":0.624},{"sym":"discomfort_respiratory","grp":"C","age":"(50, 60]","mo":6,"v":0.624},{"sym":"discomfort_respiratory","grp":"C","age":"(50, 60]","mo":7,"v":0.624},{"sym":"discomfort_respiratory","grp":"C","age":"(50, 60]","mo":8,"v":0.612},{"sym":"discomfort_respiratory","grp":"C","age":"(50, 60]","mo":9,"v":0.612},{"sym":"discomfort_respiratory","grp":"C","age":"(50, 60]","mo":10,"v":0.619},
{"sym":"discomfort_respiratory","grp":"C","age":"(60, 70]","mo":1,"v":0.663},{"sym":"discomfort_respiratory","grp":"C","age":"(60, 70]","mo":2,"v":0.658},{"sym":"discomfort_respiratory","grp":"C","age":"(60, 70]","mo":3,"v":0.658},{"sym":"discomfort_respiratory","grp":"C","age":"(60, 70]","mo":4,"v":0.615},{"sym":"discomfort_respiratory","grp":"C","age":"(60, 70]","mo":5,"v":0.615},{"sym":"discomfort_respiratory","grp":"C","age":"(60, 70]","mo":6,"v":0.629},{"sym":"discomfort_respiratory","grp":"C","age":"(60, 70]","mo":7,"v":0.607},{"sym":"discomfort_respiratory","grp":"C","age":"(60, 70]","mo":8,"v":0.59},{"sym":"discomfort_respiratory","grp":"C","age":"(60, 70]","mo":9,"v":0.568},{"sym":"discomfort_respiratory","grp":"C","age":"(60, 70]","mo":10,"v":0.573},
{"sym":"discomfort_respiratory","grp":"C","age":"(70, 80]","mo":1,"v":0.653},{"sym":"discomfort_respiratory","grp":"C","age":"(70, 80]","mo":2,"v":0.646},{"sym":"discomfort_respiratory","grp":"C","age":"(70, 80]","mo":3,"v":0.641},{"sym":"discomfort_respiratory","grp":"C","age":"(70, 80]","mo":4,"v":0.602},{"sym":"discomfort_respiratory","grp":"C","age":"(70, 80]","mo":5,"v":0.607},{"sym":"discomfort_respiratory","grp":"C","age":"(70, 80]","mo":6,"v":0.602},{"sym":"discomfort_respiratory","grp":"C","age":"(70, 80]","mo":7,"v":0.585},{"sym":"discomfort_respiratory","grp":"C","age":"(70, 80]","mo":8,"v":0.573},{"sym":"discomfort_respiratory","grp":"C","age":"(70, 80]","mo":9,"v":0.556},{"sym":"discomfort_respiratory","grp":"C","age":"(70, 80]","mo":10,"v":0.568},
{"sym":"discomfort_respiratory","grp":"C","age":"(80, 90]","mo":1,"v":0.641},{"sym":"discomfort_respiratory","grp":"C","age":"(80, 90]","mo":2,"v":0.632},{"sym":"discomfort_respiratory","grp":"C","age":"(80, 90]","mo":3,"v":0.632},{"sym":"discomfort_respiratory","grp":"C","age":"(80, 90]","mo":4,"v":0.602},{"sym":"discomfort_respiratory","grp":"C","age":"(80, 90]","mo":5,"v":0.598},{"sym":"discomfort_respiratory","grp":"C","age":"(80, 90]","mo":6,"v":0.602},{"sym":"discomfort_respiratory","grp":"C","age":"(80, 90]","mo":7,"v":0.578},{"sym":"discomfort_respiratory","grp":"C","age":"(80, 90]","mo":8,"v":0.561},{"sym":"discomfort_respiratory","grp":"C","age":"(80, 90]","mo":9,"v":0.533},{"sym":"discomfort_respiratory","grp":"C","age":"(80, 90]","mo":10,"v":0.561},
{"sym":"discomfort_respiratory","grp":"C","age":"(90, 100]","mo":1,"v":0.624},{"sym":"discomfort_respiratory","grp":"C","age":"(90, 100]","mo":2,"v":0.607},{"sym":"discomfort_respiratory","grp":"C","age":"(90, 100]","mo":3,"v":0.585},{"sym":"discomfort_respiratory","grp":"C","age":"(90, 100]","mo":4,"v":0.564},{"sym":"discomfort_respiratory","grp":"C","age":"(90, 100]","mo":5,"v":0.578},{"sym":"discomfort_respiratory","grp":"C","age":"(90, 100]","mo":6,"v":0.561},{"sym":"discomfort_respiratory","grp":"C","age":"(90, 100]","mo":7,"v":0.544},{"sym":"discomfort_respiratory","grp":"C","age":"(90, 100]","mo":8,"v":0.544},{"sym":"discomfort_respiratory","grp":"C","age":"(90, 100]","mo":9,"v":0.492},{"sym":"discomfort_respiratory","grp":"C","age":"(90, 100]","mo":10,"v":0.556},
{"sym":"discomfort_respiratory","grp":"N","age":"(0, 30]","mo":1,"v":0.602},{"sym":"discomfort_respiratory","grp":"N","age":"(0, 30]","mo":2,"v":0.611},{"sym":"discomfort_respiratory","grp":"N","age":"(0, 30]","mo":3,"v":0.593},{"sym":"discomfort_respiratory","grp":"N","age":"(0, 30]","mo":4,"v":0.645},{"sym":"discomfort_respiratory","grp":"N","age":"(0, 30]","mo":5,"v":0.585},{"sym":"discomfort_respiratory","grp":"N","age":"(0, 30]","mo":6,"v":0.585},{"sym":"discomfort_respiratory","grp":"N","age":"(0, 30]","mo":7,"v":0.576},{"sym":"discomfort_respiratory","grp":"N","age":"(0, 30]","mo":8,"v":0.602},{"sym":"discomfort_respiratory","grp":"N","age":"(0, 30]","mo":9,"v":0.633},{"sym":"discomfort_respiratory","grp":"N","age":"(0, 30]","mo":10,"v":0.602},
{"sym":"discomfort_respiratory","grp":"N","age":"(30, 40]","mo":1,"v":0.602},{"sym":"discomfort_respiratory","grp":"N","age":"(30, 40]","mo":2,"v":0.602},{"sym":"discomfort_respiratory","grp":"N","age":"(30, 40]","mo":3,"v":0.568},{"sym":"discomfort_respiratory","grp":"N","age":"(30, 40]","mo":4,"v":0.542},{"sym":"discomfort_respiratory","grp":"N","age":"(30, 40]","mo":5,"v":0.568},{"sym":"discomfort_respiratory","grp":"N","age":"(30, 40]","mo":6,"v":0.581},{"sym":"discomfort_respiratory","grp":"N","age":"(30, 40]","mo":7,"v":0.571},{"sym":"discomfort_respiratory","grp":"N","age":"(30, 40]","mo":8,"v":0.623},{"sym":"discomfort_respiratory","grp":"N","age":"(30, 40]","mo":9,"v":0.576},{"sym":"discomfort_respiratory","grp":"N","age":"(30, 40]","mo":10,"v":0.657},
{"sym":"discomfort_respiratory","grp":"N","age":"(40, 50]","mo":1,"v":0.605},{"sym":"discomfort_respiratory","grp":"N","age":"(40, 50]","mo":2,"v":0.619},{"sym":"discomfort_respiratory","grp":"N","age":"(40, 50]","mo":3,"v":0.559},{"sym":"discomfort_respiratory","grp":"N","age":"(40, 50]","mo":4,"v":0.537},{"sym":"discomfort_respiratory","grp":"N","age":"(40, 50]","mo":5,"v":0.559},{"sym":"discomfort_respiratory","grp":"N","age":"(40, 50]","mo":6,"v":0.571},{"sym":"discomfort_respiratory","grp":"N","age":"(40, 50]","mo":7,"v":0.551},{"sym":"discomfort_respiratory","grp":"N","age":"(40, 50]","mo":8,"v":0.554},{"sym":"discomfort_respiratory","grp":"N","age":"(40, 50]","mo":9,"v":0.554},{"sym":"discomfort_respiratory","grp":"N","age":"(40, 50]","mo":10,"v":0.619},
{"sym":"discomfort_respiratory","grp":"N","age":"(50, 60]","mo":1,"v":0.636},{"sym":"discomfort_respiratory","grp":"N","age":"(50, 60]","mo":2,"v":0.616},{"sym":"discomfort_respiratory","grp":"N","age":"(50, 60]","mo":3,"v":0.571},{"sym":"discomfort_respiratory","grp":"N","age":"(50, 60]","mo":4,"v":0.588},{"sym":"discomfort_respiratory","grp":"N","age":"(50, 60]","mo":5,"v":0.568},{"sym":"discomfort_respiratory","grp":"N","age":"(50, 60]","mo":6,"v":0.588},{"sym":"discomfort_respiratory","grp":"N","age":"(50, 60]","mo":7,"v":0.554},{"sym":"discomfort_respiratory","grp":"N","age":"(50, 60]","mo":8,"v":0.571},{"sym":"discomfort_respiratory","grp":"N","age":"(50, 60]","mo":9,"v":0.568},{"sym":"discomfort_respiratory","grp":"N","age":"(50, 60]","mo":10,"v":0.568},
{"sym":"discomfort_respiratory","grp":"N","age":"(60, 70]","mo":1,"v":0.645},{"sym":"discomfort_respiratory","grp":"N","age":"(60, 70]","mo":2,"v":0.628},{"sym":"discomfort_respiratory","grp":"N","age":"(60, 70]","mo":3,"v":0.605},{"sym":"discomfort_respiratory","grp":"N","age":"(60, 70]","mo":4,"v":0.581},{"sym":"discomfort_respiratory","grp":"N","age":"(60, 70]","mo":5,"v":0.571},{"sym":"discomfort_respiratory","grp":"N","age":"(60, 70]","mo":6,"v":0.581},{"sym":"discomfort_respiratory","grp":"N","age":"(60, 70]","mo":7,"v":0.571},{"sym":"discomfort_respiratory","grp":"N","age":"(60, 70]","mo":8,"v":0.571},{"sym":"discomfort_respiratory","grp":"N","age":"(60, 70]","mo":9,"v":0.571},{"sym":"discomfort_respiratory","grp":"N","age":"(60, 70]","mo":10,"v":0.554},
{"sym":"discomfort_respiratory","grp":"N","age":"(70, 80]","mo":1,"v":0.65},{"sym":"discomfort_respiratory","grp":"N","age":"(70, 80]","mo":2,"v":0.633},{"sym":"discomfort_respiratory","grp":"N","age":"(70, 80]","mo":3,"v":0.611},{"sym":"discomfort_respiratory","grp":"N","age":"(70, 80]","mo":4,"v":0.581},{"sym":"discomfort_respiratory","grp":"N","age":"(70, 80]","mo":5,"v":0.571},{"sym":"discomfort_respiratory","grp":"N","age":"(70, 80]","mo":6,"v":0.571},{"sym":"discomfort_respiratory","grp":"N","age":"(70, 80]","mo":7,"v":0.581},{"sym":"discomfort_respiratory","grp":"N","age":"(70, 80]","mo":8,"v":0.571},{"sym":"discomfort_respiratory","grp":"N","age":"(70, 80]","mo":9,"v":0.581},{"sym":"discomfort_respiratory","grp":"N","age":"(70, 80]","mo":10,"v":0.568},
{"sym":"discomfort_respiratory","grp":"N","age":"(80, 90]","mo":1,"v":0.628},{"sym":"discomfort_respiratory","grp":"N","age":"(80, 90]","mo":2,"v":0.636},{"sym":"discomfort_respiratory","grp":"N","age":"(80, 90]","mo":3,"v":0.611},{"sym":"discomfort_respiratory","grp":"N","age":"(80, 90]","mo":4,"v":0.588},{"sym":"discomfort_respiratory","grp":"N","age":"(80, 90]","mo":5,"v":0.576},{"sym":"discomfort_respiratory","grp":"N","age":"(80, 90]","mo":6,"v":0.564},{"sym":"discomfort_respiratory","grp":"N","age":"(80, 90]","mo":7,"v":0.588},{"sym":"discomfort_respiratory","grp":"N","age":"(80, 90]","mo":8,"v":0.571},{"sym":"discomfort_respiratory","grp":"N","age":"(80, 90]","mo":9,"v":0.571},{"sym":"discomfort_respiratory","grp":"N","age":"(80, 90]","mo":10,"v":0.588},
{"sym":"discomfort_respiratory","grp":"N","age":"(90, 100]","mo":1,"v":0.588},{"sym":"discomfort_respiratory","grp":"N","age":"(90, 100]","mo":2,"v":0.667},{"sym":"discomfort_respiratory","grp":"N","age":"(90, 100]","mo":3,"v":0.564},{"sym":"discomfort_respiratory","grp":"N","age":"(90, 100]","mo":4,"v":0.571},{"sym":"discomfort_respiratory","grp":"N","age":"(90, 100]","mo":5,"v":0.508},{"sym":"discomfort_respiratory","grp":"N","age":"(90, 100]","mo":6,"v":0.533},{"sym":"discomfort_respiratory","grp":"N","age":"(90, 100]","mo":7,"v":0.588},{"sym":"discomfort_respiratory","grp":"N","age":"(90, 100]","mo":8,"v":0.571},{"sym":"discomfort_respiratory","grp":"N","age":"(90, 100]","mo":9,"v":0.571},{"sym":"discomfort_respiratory","grp":"N","age":"(90, 100]","mo":10,"v":0.571},
{"sym":"fatigue","grp":"C","age":"(0, 30]","mo":1,"v":0.185},{"sym":"fatigue","grp":"C","age":"(0, 30]","mo":2,"v":0.253},{"sym":"fatigue","grp":"C","age":"(0, 30]","mo":3,"v":0.243},{"sym":"fatigue","grp":"C","age":"(0, 30]","mo":4,"v":0.222},{"sym":"fatigue","grp":"C","age":"(0, 30]","mo":5,"v":0.214},{"sym":"fatigue","grp":"C","age":"(0, 30]","mo":6,"v":0.243},{"sym":"fatigue","grp":"C","age":"(0, 30]","mo":7,"v":0.248},{"sym":"fatigue","grp":"C","age":"(0, 30]","mo":8,"v":0.239},{"sym":"fatigue","grp":"C","age":"(0, 30]","mo":9,"v":0.239},{"sym":"fatigue","grp":"C","age":"(0, 30]","mo":10,"v":0.248},
{"sym":"fatigue","grp":"C","age":"(30, 40]","mo":1,"v":0.282},{"sym":"fatigue","grp":"C","age":"(30, 40]","mo":2,"v":0.277},{"sym":"fatigue","grp":"C","age":"(30, 40]","mo":3,"v":0.27},{"sym":"fatigue","grp":"C","age":"(30, 40]","mo":4,"v":0.265},{"sym":"fatigue","grp":"C","age":"(30, 40]","mo":5,"v":0.274},{"sym":"fatigue","grp":"C","age":"(30, 40]","mo":6,"v":0.282},{"sym":"fatigue","grp":"C","age":"(30, 40]","mo":7,"v":0.291},{"sym":"fatigue","grp":"C","age":"(30, 40]","mo":8,"v":0.304},{"sym":"fatigue","grp":"C","age":"(30, 40]","mo":9,"v":0.27},{"sym":"fatigue","grp":"C","age":"(30, 40]","mo":10,"v":0.265},
{"sym":"fatigue","grp":"C","age":"(40, 50]","mo":1,"v":0.277},{"sym":"fatigue","grp":"C","age":"(40, 50]","mo":2,"v":0.274},{"sym":"fatigue","grp":"C","age":"(40, 50]","mo":3,"v":0.265},{"sym":"fatigue","grp":"C","age":"(40, 50]","mo":4,"v":0.27},{"sym":"fatigue","grp":"C","age":"(40, 50]","mo":5,"v":0.282},{"sym":"fatigue","grp":"C","age":"(40, 50]","mo":6,"v":0.291},{"sym":"fatigue","grp":"C","age":"(40, 50]","mo":7,"v":0.299},{"sym":"fatigue","grp":"C","age":"(40, 50]","mo":8,"v":0.294},{"sym":"fatigue","grp":"C","age":"(40, 50]","mo":9,"v":0.265},{"sym":"fatigue","grp":"C","age":"(40, 50]","mo":10,"v":0.27},
{"sym":"fatigue","grp":"C","age":"(50, 60]","mo":1,"v":0.27},{"sym":"fatigue","grp":"C","age":"(50, 60]","mo":2,"v":0.27},{"sym":"fatigue","grp":"C","age":"(50, 60]","mo":3,"v":0.26},{"sym":"fatigue","grp":"C","age":"(50, 60]","mo":4,"v":0.26},{"sym":"fatigue","grp":"C","age":"(50, 60]","mo":5,"v":0.274},{"sym":"fatigue","grp":"C","age":"(50, 60]","mo":6,"v":0.282},{"sym":"fatigue","grp":"C","age":"(50, 60]","mo":7,"v":0.294},{"sym":"fatigue","grp":"C","age":"(50, 60]","mo":8,"v":0.282},{"sym":"fatigue","grp":"C","age":"(50, 60]","mo":9,"v":0.26},{"sym":"fatigue","grp":"C","age":"(50, 60]","mo":10,"v":0.274},
{"sym":"fatigue","grp":"C","age":"(60, 70]","mo":1,"v":0.26},{"sym":"fatigue","grp":"C","age":"(60, 70]","mo":2,"v":0.265},{"sym":"fatigue","grp":"C","age":"(60, 70]","mo":3,"v":0.26},{"sym":"fatigue","grp":"C","age":"(60, 70]","mo":4,"v":0.256},{"sym":"fatigue","grp":"C","age":"(60, 70]","mo":5,"v":0.265},{"sym":"fatigue","grp":"C","age":"(60, 70]","mo":6,"v":0.274},{"sym":"fatigue","grp":"C","age":"(60, 70]","mo":7,"v":0.274},{"sym":"fatigue","grp":"C","age":"(60, 70]","mo":8,"v":0.27},{"sym":"fatigue","grp":"C","age":"(60, 70]","mo":9,"v":0.253},{"sym":"fatigue","grp":"C","age":"(60, 70]","mo":10,"v":0.265},
{"sym":"fatigue","grp":"C","age":"(70, 80]","mo":1,"v":0.253},{"sym":"fatigue","grp":"C","age":"(70, 80]","mo":2,"v":0.256},{"sym":"fatigue","grp":"C","age":"(70, 80]","mo":3,"v":0.253},{"sym":"fatigue","grp":"C","age":"(70, 80]","mo":4,"v":0.248},{"sym":"fatigue","grp":"C","age":"(70, 80]","mo":5,"v":0.253},{"sym":"fatigue","grp":"C","age":"(70, 80]","mo":6,"v":0.26},{"sym":"fatigue","grp":"C","age":"(70, 80]","mo":7,"v":0.265},{"sym":"fatigue","grp":"C","age":"(70, 80]","mo":8,"v":0.265},{"sym":"fatigue","grp":"C","age":"(70, 80]","mo":9,"v":0.248},{"sym":"fatigue","grp":"C","age":"(70, 80]","mo":10,"v":0.253},
{"sym":"fatigue","grp":"C","age":"(80, 90]","mo":1,"v":0.248},{"sym":"fatigue","grp":"C","age":"(80, 90]","mo":2,"v":0.236},{"sym":"fatigue","grp":"C","age":"(80, 90]","mo":3,"v":0.226},{"sym":"fatigue","grp":"C","age":"(80, 90]","mo":4,"v":0.222},{"sym":"fatigue","grp":"C","age":"(80, 90]","mo":5,"v":0.236},{"sym":"fatigue","grp":"C","age":"(80, 90]","mo":6,"v":0.236},{"sym":"fatigue","grp":"C","age":"(80, 90]","mo":7,"v":0.243},{"sym":"fatigue","grp":"C","age":"(80, 90]","mo":8,"v":0.236},{"sym":"fatigue","grp":"C","age":"(80, 90]","mo":9,"v":0.236},{"sym":"fatigue","grp":"C","age":"(80, 90]","mo":10,"v":0.248},
{"sym":"fatigue","grp":"C","age":"(90, 100]","mo":1,"v":0.253},{"sym":"fatigue","grp":"C","age":"(90, 100]","mo":2,"v":0.231},{"sym":"fatigue","grp":"C","age":"(90, 100]","mo":3,"v":0.214},{"sym":"fatigue","grp":"C","age":"(90, 100]","mo":4,"v":0.214},{"sym":"fatigue","grp":"C","age":"(90, 100]","mo":5,"v":0.222},{"sym":"fatigue","grp":"C","age":"(90, 100]","mo":6,"v":0.226},{"sym":"fatigue","grp":"C","age":"(90, 100]","mo":7,"v":0.231},{"sym":"fatigue","grp":"C","age":"(90, 100]","mo":8,"v":0.219},{"sym":"fatigue","grp":"C","age":"(90, 100]","mo":9,"v":0.231},{"sym":"fatigue","grp":"C","age":"(90, 100]","mo":10,"v":0.248},
{"sym":"fatigue","grp":"N","age":"(0, 30]","mo":1,"v":0.156},{"sym":"fatigue","grp":"N","age":"(0, 30]","mo":2,"v":0.153},{"sym":"fatigue","grp":"N","age":"(0, 30]","mo":3,"v":0.156},{"sym":"fatigue","grp":"N","age":"(0, 30]","mo":4,"v":0.156},{"sym":"fatigue","grp":"N","age":"(0, 30]","mo":5,"v":0.156},{"sym":"fatigue","grp":"N","age":"(0, 30]","mo":6,"v":0.16},{"sym":"fatigue","grp":"N","age":"(0, 30]","mo":7,"v":0.173},{"sym":"fatigue","grp":"N","age":"(0, 30]","mo":8,"v":0.136},{"sym":"fatigue","grp":"N","age":"(0, 30]","mo":9,"v":0.148},{"sym":"fatigue","grp":"N","age":"(0, 30]","mo":10,"v":0.156},
{"sym":"fatigue","grp":"N","age":"(30, 40]","mo":1,"v":0.182},{"sym":"fatigue","grp":"N","age":"(30, 40]","mo":2,"v":0.177},{"sym":"fatigue","grp":"N","age":"(30, 40]","mo":3,"v":0.204},{"sym":"fatigue","grp":"N","age":"(30, 40]","mo":4,"v":0.19},{"sym":"fatigue","grp":"N","age":"(30, 40]","mo":5,"v":0.182},{"sym":"fatigue","grp":"N","age":"(30, 40]","mo":6,"v":0.17},{"sym":"fatigue","grp":"N","age":"(30, 40]","mo":7,"v":0.177},{"sym":"fatigue","grp":"N","age":"(30, 40]","mo":8,"v":0.199},{"sym":"fatigue","grp":"N","age":"(30, 40]","mo":9,"v":0.187},{"sym":"fatigue","grp":"N","age":"(30, 40]","mo":10,"v":0.242},
{"sym":"fatigue","grp":"N","age":"(40, 50]","mo":1,"v":0.177},{"sym":"fatigue","grp":"N","age":"(40, 50]","mo":2,"v":0.182},{"sym":"fatigue","grp":"N","age":"(40, 50]","mo":3,"v":0.194},{"sym":"fatigue","grp":"N","age":"(40, 50]","mo":4,"v":0.17},{"sym":"fatigue","grp":"N","age":"(40, 50]","mo":5,"v":0.17},{"sym":"fatigue","grp":"N","age":"(40, 50]","mo":6,"v":0.156},{"sym":"fatigue","grp":"N","age":"(40, 50]","mo":7,"v":0.182},{"sym":"fatigue","grp":"N","age":"(40, 50]","mo":8,"v":0.204},{"sym":"fatigue","grp":"N","age":"(40, 50]","mo":9,"v":0.194},{"sym":"fatigue","grp":"N","age":"(40, 50]","mo":10,"v":0.199},
{"sym":"fatigue","grp":"N","age":"(50, 60]","mo":1,"v":0.19},{"sym":"fatigue","grp":"N","age":"(50, 60]","mo":2,"v":0.194},{"sym":"fatigue","grp":"N","age":"(50, 60]","mo":3,"v":0.177},{"sym":"fatigue","grp":"N","age":"(50, 60]","mo":4,"v":0.182},{"sym":"fatigue","grp":"N","age":"(50, 60]","mo":5,"v":0.187},{"sym":"fatigue","grp":"N","age":"(50, 60]","mo":6,"v":0.182},{"sym":"fatigue","grp":"N","age":"(50, 60]","mo":7,"v":0.225},{"sym":"fatigue","grp":"N","age":"(50, 60]","mo":8,"v":0.221},{"sym":"fatigue","grp":"N","age":"(50, 60]","mo":9,"v":0.211},{"sym":"fatigue","grp":"N","age":"(50, 60]","mo":10,"v":0.19},
{"sym":"fatigue","grp":"N","age":"(60, 70]","mo":1,"v":0.182},{"sym":"fatigue","grp":"N","age":"(60, 70]","mo":2,"v":0.182},{"sym":"fatigue","grp":"N","age":"(60, 70]","mo":3,"v":0.182},{"sym":"fatigue","grp":"N","age":"(60, 70]","mo":4,"v":0.182},{"sym":"fatigue","grp":"N","age":"(60, 70]","mo":5,"v":0.19},{"sym":"fatigue","grp":"N","age":"(60, 70]","mo":6,"v":0.204},{"sym":"fatigue","grp":"N","age":"(60, 70]","mo":7,"v":0.199},{"sym":"fatigue","grp":"N","age":"(60, 70]","mo":8,"v":0.216},{"sym":"fatigue","grp":"N","age":"(60, 70]","mo":9,"v":0.199},{"sym":"fatigue","grp":"N","age":"(60, 70]","mo":10,"v":0.194},
{"sym":"fatigue","grp":"N","age":"(70, 80]","mo":1,"v":0.19},{"sym":"fatigue","grp":"N","age":"(70, 80]","mo":2,"v":0.194},{"sym":"fatigue","grp":"N","age":"(70, 80]","mo":3,"v":0.19},{"sym":"fatigue","grp":"N","age":"(70, 80]","mo":4,"v":0.194},{"sym":"fatigue","grp":"N","age":"(70, 80]","mo":5,"v":0.199},{"sym":"fatigue","grp":"N","age":"(70, 80]","mo":6,"v":0.199},{"sym":"fatigue","grp":"N","age":"(70, 80]","mo":7,"v":0.211},{"sym":"fatigue","grp":"N","age":"(70, 80]","mo":8,"v":0.204},{"sym":"fatigue","grp":"N","age":"(70, 80]","mo":9,"v":0.19},{"sym":"fatigue","grp":"N","age":"(70, 80]","mo":10,"v":0.177},
{"sym":"fatigue","grp":"N","age":"(80, 90]","mo":1,"v":0.194},{"sym":"fatigue","grp":"N","age":"(80, 90]","mo":2,"v":0.187},{"sym":"fatigue","grp":"N","age":"(80, 90]","mo":3,"v":0.19},{"sym":"fatigue","grp":"N","age":"(80, 90]","mo":4,"v":0.199},{"sym":"fatigue","grp":"N","age":"(80, 90]","mo":5,"v":0.208},{"sym":"fatigue","grp":"N","age":"(80, 90]","mo":6,"v":0.221},{"sym":"fatigue","grp":"N","age":"(80, 90]","mo":7,"v":0.194},{"sym":"fatigue","grp":"N","age":"(80, 90]","mo":8,"v":0.216},{"sym":"fatigue","grp":"N","age":"(80, 90]","mo":9,"v":0.182},{"sym":"fatigue","grp":"N","age":"(80, 90]","mo":10,"v":0.199},
{"sym":"fatigue","grp":"N","age":"(90, 100]","mo":1,"v":0.136},{"sym":"fatigue","grp":"N","age":"(90, 100]","mo":2,"v":0.182},{"sym":"fatigue","grp":"N","age":"(90, 100]","mo":3,"v":0.173},{"sym":"fatigue","grp":"N","age":"(90, 100]","mo":4,"v":0.165},{"sym":"fatigue","grp":"N","age":"(90, 100]","mo":5,"v":0.199},{"sym":"fatigue","grp":"N","age":"(90, 100]","mo":6,"v":0.221},{"sym":"fatigue","grp":"N","age":"(90, 100]","mo":7,"v":0.187},{"sym":"fatigue","grp":"N","age":"(90, 100]","mo":8,"v":0.221},{"sym":"fatigue","grp":"N","age":"(90, 100]","mo":9,"v":0.177},{"sym":"fatigue","grp":"N","age":"(90, 100]","mo":10,"v":0.194},
{"sym":"loss_smell","grp":"C","age":"(0, 30]","mo":1,"v":0.106},{"sym":"loss_smell","grp":"C","age":"(0, 30]","mo":2,"v":0.12},{"sym":"loss_smell","grp":"C","age":"(0, 30]","mo":3,"v":0.094},{"sym":"loss_smell","grp":"C","age":"(0, 30]","mo":4,"v":0.094},{"sym":"loss_smell","grp":"C","age":"(0, 30]","mo":5,"v":0.103},{"sym":"loss_smell","grp":"C","age":"(0, 30]","mo":6,"v":0.103},{"sym":"loss_smell","grp":"C","age":"(0, 30]","mo":7,"v":0.111},{"sym":"loss_smell","grp":"C","age":"(0, 30]","mo":8,"v":0.094},{"sym":"loss_smell","grp":"C","age":"(0, 30]","mo":9,"v":0.111},{"sym":"loss_smell","grp":"C","age":"(0, 30]","mo":10,"v":0.06},
{"sym":"loss_smell","grp":"C","age":"(30, 40]","mo":1,"v":0.168},{"sym":"loss_smell","grp":"C","age":"(30, 40]","mo":2,"v":0.154},{"sym":"loss_smell","grp":"C","age":"(30, 40]","mo":3,"v":0.116},{"sym":"loss_smell","grp":"C","age":"(30, 40]","mo":4,"v":0.103},{"sym":"loss_smell","grp":"C","age":"(30, 40]","mo":5,"v":0.103},{"sym":"loss_smell","grp":"C","age":"(30, 40]","mo":6,"v":0.099},{"sym":"loss_smell","grp":"C","age":"(30, 40]","mo":7,"v":0.116},{"sym":"loss_smell","grp":"C","age":"(30, 40]","mo":8,"v":0.094},{"sym":"loss_smell","grp":"C","age":"(30, 40]","mo":9,"v":0.111},{"sym":"loss_smell","grp":"C","age":"(30, 40]","mo":10,"v":0.082},
{"sym":"loss_smell","grp":"C","age":"(40, 50]","mo":1,"v":0.145},{"sym":"loss_smell","grp":"C","age":"(40, 50]","mo":2,"v":0.133},{"sym":"loss_smell","grp":"C","age":"(40, 50]","mo":3,"v":0.094},{"sym":"loss_smell","grp":"C","age":"(40, 50]","mo":4,"v":0.089},{"sym":"loss_smell","grp":"C","age":"(40, 50]","mo":5,"v":0.089},{"sym":"loss_smell","grp":"C","age":"(40, 50]","mo":6,"v":0.094},{"sym":"loss_smell","grp":"C","age":"(40, 50]","mo":7,"v":0.094},{"sym":"loss_smell","grp":"C","age":"(40, 50]","mo":8,"v":0.089},{"sym":"loss_smell","grp":"C","age":"(40, 50]","mo":9,"v":0.082},{"sym":"loss_smell","grp":"C","age":"(40, 50]","mo":10,"v":0.077},
{"sym":"loss_smell","grp":"C","age":"(50, 60]","mo":1,"v":0.135},{"sym":"loss_smell","grp":"C","age":"(50, 60]","mo":2,"v":0.111},{"sym":"loss_smell","grp":"C","age":"(50, 60]","mo":3,"v":0.089},{"sym":"loss_smell","grp":"C","age":"(50, 60]","mo":4,"v":0.082},{"sym":"loss_smell","grp":"C","age":"(50, 60]","mo":5,"v":0.082},{"sym":"loss_smell","grp":"C","age":"(50, 60]","mo":6,"v":0.085},{"sym":"loss_smell","grp":"C","age":"(50, 60]","mo":7,"v":0.082},{"sym":"loss_smell","grp":"C","age":"(50, 60]","mo":8,"v":0.082},{"sym":"loss_smell","grp":"C","age":"(50, 60]","mo":9,"v":0.072},{"sym":"loss_smell","grp":"C","age":"(50, 60]","mo":10,"v":0.082},
{"sym":"loss_smell","grp":"C","age":"(60, 70]","mo":1,"v":0.12},{"sym":"loss_smell","grp":"C","age":"(60, 70]","mo":2,"v":0.099},{"sym":"loss_smell","grp":"C","age":"(60, 70]","mo":3,"v":0.082},{"sym":"loss_smell","grp":"C","age":"(60, 70]","mo":4,"v":0.077},{"sym":"loss_smell","grp":"C","age":"(60, 70]","mo":5,"v":0.077},{"sym":"loss_smell","grp":"C","age":"(60, 70]","mo":6,"v":0.077},{"sym":"loss_smell","grp":"C","age":"(60, 70]","mo":7,"v":0.072},{"sym":"loss_smell","grp":"C","age":"(60, 70]","mo":8,"v":0.072},{"sym":"loss_smell","grp":"C","age":"(60, 70]","mo":9,"v":0.068},{"sym":"loss_smell","grp":"C","age":"(60, 70]","mo":10,"v":0.085},
{"sym":"loss_smell","grp":"C","age":"(70, 80]","mo":1,"v":0.094},{"sym":"loss_smell","grp":"C","age":"(70, 80]","mo":2,"v":0.082},{"sym":"loss_smell","grp":"C","age":"(70, 80]","mo":3,"v":0.068},{"sym":"loss_smell","grp":"C","age":"(70, 80]","mo":4,"v":0.065},{"sym":"loss_smell","grp":"C","age":"(70, 80]","mo":5,"v":0.065},{"sym":"loss_smell","grp":"C","age":"(70, 80]","mo":6,"v":0.065},{"sym":"loss_smell","grp":"C","age":"(70, 80]","mo":7,"v":0.06},{"sym":"loss_smell","grp":"C","age":"(70, 80]","mo":8,"v":0.06},{"sym":"loss_smell","grp":"C","age":"(70, 80]","mo":9,"v":0.055},{"sym":"loss_smell","grp":"C","age":"(70, 80]","mo":10,"v":0.072},
{"sym":"loss_smell","grp":"C","age":"(80, 90]","mo":1,"v":0.077},{"sym":"loss_smell","grp":"C","age":"(80, 90]","mo":2,"v":0.068},{"sym":"loss_smell","grp":"C","age":"(80, 90]","mo":3,"v":0.055},{"sym":"loss_smell","grp":"C","age":"(80, 90]","mo":4,"v":0.051},{"sym":"loss_smell","grp":"C","age":"(80, 90]","mo":5,"v":0.055},{"sym":"loss_smell","grp":"C","age":"(80, 90]","mo":6,"v":0.051},{"sym":"loss_smell","grp":"C","age":"(80, 90]","mo":7,"v":0.048},{"sym":"loss_smell","grp":"C","age":"(80, 90]","mo":8,"v":0.043},{"sym":"loss_smell","grp":"C","age":"(80, 90]","mo":9,"v":0.043},{"sym":"loss_smell","grp":"C","age":"(80, 90]","mo":10,"v":0.055},
{"sym":"loss_smell","grp":"C","age":"(90, 100]","mo":1,"v":0.043},{"sym":"loss_smell","grp":"C","age":"(90, 100]","mo":2,"v":0.038},{"sym":"loss_smell","grp":"C","age":"(90, 100]","mo":3,"v":0.034},{"sym":"loss_smell","grp":"C","age":"(90, 100]","mo":4,"v":0.031},{"sym":"loss_smell","grp":"C","age":"(90, 100]","mo":5,"v":0.034},{"sym":"loss_smell","grp":"C","age":"(90, 100]","mo":6,"v":0.034},{"sym":"loss_smell","grp":"C","age":"(90, 100]","mo":7,"v":0.026},{"sym":"loss_smell","grp":"C","age":"(90, 100]","mo":8,"v":0.031},{"sym":"loss_smell","grp":"C","age":"(90, 100]","mo":9,"v":0.034},{"sym":"loss_smell","grp":"C","age":"(90, 100]","mo":10,"v":0.031},
{"sym":"loss_smell","grp":"N","age":"(0, 30]","mo":1,"v":0.022},{"sym":"loss_smell","grp":"N","age":"(0, 30]","mo":2,"v":0.036},{"sym":"loss_smell","grp":"N","age":"(0, 30]","mo":3,"v":0.027},{"sym":"loss_smell","grp":"N","age":"(0, 30]","mo":4,"v":0.027},{"sym":"loss_smell","grp":"N","age":"(0, 30]","mo":5,"v":0.027},{"sym":"loss_smell","grp":"N","age":"(0, 30]","mo":6,"v":0.057},{"sym":"loss_smell","grp":"N","age":"(0, 30]","mo":7,"v":0.033},{"sym":"loss_smell","grp":"N","age":"(0, 30]","mo":8,"v":0.019},{"sym":"loss_smell","grp":"N","age":"(0, 30]","mo":9,"v":0.015},{"sym":"loss_smell","grp":"N","age":"(0, 30]","mo":10,"v":0.002},
{"sym":"loss_smell","grp":"N","age":"(30, 40]","mo":1,"v":0.033},{"sym":"loss_smell","grp":"N","age":"(30, 40]","mo":2,"v":0.036},{"sym":"loss_smell","grp":"N","age":"(30, 40]","mo":3,"v":0.036},{"sym":"loss_smell","grp":"N","age":"(30, 40]","mo":4,"v":0.022},{"sym":"loss_smell","grp":"N","age":"(30, 40]","mo":5,"v":0.045},{"sym":"loss_smell","grp":"N","age":"(30, 40]","mo":6,"v":0.033},{"sym":"loss_smell","grp":"N","age":"(30, 40]","mo":7,"v":0.036},{"sym":"loss_smell","grp":"N","age":"(30, 40]","mo":8,"v":0.027},{"sym":"loss_smell","grp":"N","age":"(30, 40]","mo":9,"v":0.019},{"sym":"loss_smell","grp":"N","age":"(30, 40]","mo":10,"v":0.01},
{"sym":"loss_smell","grp":"N","age":"(40, 50]","mo":1,"v":0.027},{"sym":"loss_smell","grp":"N","age":"(40, 50]","mo":2,"v":0.039},{"sym":"loss_smell","grp":"N","age":"(40, 50]","mo":3,"v":0.033},{"sym":"loss_smell","grp":"N","age":"(40, 50]","mo":4,"v":0.027},{"sym":"loss_smell","grp":"N","age":"(40, 50]","mo":5,"v":0.045},{"sym":"loss_smell","grp":"N","age":"(40, 50]","mo":6,"v":0.033},{"sym":"loss_smell","grp":"N","age":"(40, 50]","mo":7,"v":0.022},{"sym":"loss_smell","grp":"N","age":"(40, 50]","mo":8,"v":0.019},{"sym":"loss_smell","grp":"N","age":"(40, 50]","mo":9,"v":0.019},{"sym":"loss_smell","grp":"N","age":"(40, 50]","mo":10,"v":0.01},
{"sym":"loss_smell","grp":"N","age":"(50, 60]","mo":1,"v":0.027},{"sym":"loss_smell","grp":"N","age":"(50, 60]","mo":2,"v":0.027},{"sym":"loss_smell","grp":"N","age":"(50, 60]","mo":3,"v":0.027},{"sym":"loss_smell","grp":"N","age":"(50, 60]","mo":4,"v":0.027},{"sym":"loss_smell","grp":"N","age":"(50, 60]","mo":5,"v":0.022},{"sym":"loss_smell","grp":"N","age":"(50, 60]","mo":6,"v":0.022},{"sym":"loss_smell","grp":"N","age":"(50, 60]","mo":7,"v":0.019},{"sym":"loss_smell","grp":"N","age":"(50, 60]","mo":8,"v":0.019},{"sym":"loss_smell","grp":"N","age":"(50, 60]","mo":9,"v":0.019},{"sym":"loss_smell","grp":"N","age":"(50, 60]","mo":10,"v":0.022},
{"sym":"loss_smell","grp":"N","age":"(60, 70]","mo":1,"v":0.027},{"sym":"loss_smell","grp":"N","age":"(60, 70]","mo":2,"v":0.027},{"sym":"loss_smell","grp":"N","age":"(60, 70]","mo":3,"v":0.022},{"sym":"loss_smell","grp":"N","age":"(60, 70]","mo":4,"v":0.022},{"sym":"loss_smell","grp":"N","age":"(60, 70]","mo":5,"v":0.019},{"sym":"loss_smell","grp":"N","age":"(60, 70]","mo":6,"v":0.019},{"sym":"loss_smell","grp":"N","age":"(60, 70]","mo":7,"v":0.019},{"sym":"loss_smell","grp":"N","age":"(60, 70]","mo":8,"v":0.019},{"sym":"loss_smell","grp":"N","age":"(60, 70]","mo":9,"v":0.019},{"sym":"loss_smell","grp":"N","age":"(60, 70]","mo":10,"v":0.027},
{"sym":"loss_smell","grp":"N","age":"(70, 80]","mo":1,"v":0.027},{"sym":"loss_smell","grp":"N","age":"(70, 80]","mo":2,"v":0.019},{"sym":"loss_smell","grp":"N","age":"(70, 80]","mo":3,"v":0.015},{"sym":"loss_smell","grp":"N","age":"(70, 80]","mo":4,"v":0.01},{"sym":"loss_smell","grp":"N","age":"(70, 80]","mo":5,"v":0.015},{"sym":"loss_smell","grp":"N","age":"(70, 80]","mo":6,"v":0.01},{"sym":"loss_smell","grp":"N","age":"(70, 80]","mo":7,"v":0.015},{"sym":"loss_smell","grp":"N","age":"(70, 80]","mo":8,"v":0.01},{"sym":"loss_smell","grp":"N","age":"(70, 80]","mo":9,"v":0.015},{"sym":"loss_smell","grp":"N","age":"(70, 80]","mo":10,"v":0.019},
{"sym":"loss_smell","grp":"N","age":"(80, 90]","mo":1,"v":0.019},{"sym":"loss_smell","grp":"N","age":"(80, 90]","mo":2,"v":0.015},{"sym":"loss_smell","grp":"N","age":"(80, 90]","mo":3,"v":0.01},{"sym":"loss_smell","grp":"N","age":"(80, 90]","mo":4,"v":0.01},{"sym":"loss_smell","grp":"N","age":"(80, 90]","mo":5,"v":0.01},{"sym":"loss_smell","grp":"N","age":"(80, 90]","mo":6,"v":0.002},{"sym":"loss_smell","grp":"N","age":"(80, 90]","mo":7,"v":0.01},{"sym":"loss_smell","grp":"N","age":"(80, 90]","mo":8,"v":0.01},{"sym":"loss_smell","grp":"N","age":"(80, 90]","mo":9,"v":0.01},{"sym":"loss_smell","grp":"N","age":"(80, 90]","mo":10,"v":0.019},
{"sym":"loss_smell","grp":"N","age":"(90, 100]","mo":1,"v":0.027},{"sym":"loss_smell","grp":"N","age":"(90, 100]","mo":2,"v":0.022},{"sym":"loss_smell","grp":"N","age":"(90, 100]","mo":3,"v":0.01},{"sym":"loss_smell","grp":"N","age":"(90, 100]","mo":4,"v":0.002},{"sym":"loss_smell","grp":"N","age":"(90, 100]","mo":5,"v":0.015},{"sym":"loss_smell","grp":"N","age":"(90, 100]","mo":6,"v":0.005},{"sym":"loss_smell","grp":"N","age":"(90, 100]","mo":7,"v":0.01},{"sym":"loss_smell","grp":"N","age":"(90, 100]","mo":8,"v":0.01},{"sym":"loss_smell","grp":"N","age":"(90, 100]","mo":9,"v":0.015},{"sym":"loss_smell","grp":"N","age":"(90, 100]","mo":10,"v":0.022},
{"sym":"risk_factor","grp":"C","age":"(0, 30]","mo":1,"v":0.59},{"sym":"risk_factor","grp":"C","age":"(0, 30]","mo":2,"v":0.619},{"sym":"risk_factor","grp":"C","age":"(0, 30]","mo":3,"v":0.598},{"sym":"risk_factor","grp":"C","age":"(0, 30]","mo":4,"v":0.598},{"sym":"risk_factor","grp":"C","age":"(0, 30]","mo":5,"v":0.612},{"sym":"risk_factor","grp":"C","age":"(0, 30]","mo":6,"v":0.612},{"sym":"risk_factor","grp":"C","age":"(0, 30]","mo":7,"v":0.568},{"sym":"risk_factor","grp":"C","age":"(0, 30]","mo":8,"v":0.595},{"sym":"risk_factor","grp":"C","age":"(0, 30]","mo":9,"v":0.598},{"sym":"risk_factor","grp":"C","age":"(0, 30]","mo":10,"v":0.602},
{"sym":"risk_factor","grp":"C","age":"(30, 40]","mo":1,"v":0.59},{"sym":"risk_factor","grp":"C","age":"(30, 40]","mo":2,"v":0.578},{"sym":"risk_factor","grp":"C","age":"(30, 40]","mo":3,"v":0.544},{"sym":"risk_factor","grp":"C","age":"(30, 40]","mo":4,"v":0.521},{"sym":"risk_factor","grp":"C","age":"(30, 40]","mo":5,"v":0.538},{"sym":"risk_factor","grp":"C","age":"(30, 40]","mo":6,"v":0.538},{"sym":"risk_factor","grp":"C","age":"(30, 40]","mo":7,"v":0.509},{"sym":"risk_factor","grp":"C","age":"(30, 40]","mo":8,"v":0.516},{"sym":"risk_factor","grp":"C","age":"(30, 40]","mo":9,"v":0.607},{"sym":"risk_factor","grp":"C","age":"(30, 40]","mo":10,"v":0.598},
{"sym":"risk_factor","grp":"C","age":"(40, 50]","mo":1,"v":0.632},{"sym":"risk_factor","grp":"C","age":"(40, 50]","mo":2,"v":0.607},{"sym":"risk_factor","grp":"C","age":"(40, 50]","mo":3,"v":0.581},{"sym":"risk_factor","grp":"C","age":"(40, 50]","mo":4,"v":0.578},{"sym":"risk_factor","grp":"C","age":"(40, 50]","mo":5,"v":0.585},{"sym":"risk_factor","grp":"C","age":"(40, 50]","mo":6,"v":0.561},{"sym":"risk_factor","grp":"C","age":"(40, 50]","mo":7,"v":0.526},{"sym":"risk_factor","grp":"C","age":"(40, 50]","mo":8,"v":0.59},{"sym":"risk_factor","grp":"C","age":"(40, 50]","mo":9,"v":0.658},{"sym":"risk_factor","grp":"C","age":"(40, 50]","mo":10,"v":0.619},
{"sym":"risk_factor","grp":"C","age":"(50, 60]","mo":1,"v":0.675},{"sym":"risk_factor","grp":"C","age":"(50, 60]","mo":2,"v":0.687},{"sym":"risk_factor","grp":"C","age":"(50, 60]","mo":3,"v":0.658},{"sym":"risk_factor","grp":"C","age":"(50, 60]","mo":4,"v":0.646},{"sym":"risk_factor","grp":"C","age":"(50, 60]","mo":5,"v":0.663},{"sym":"risk_factor","grp":"C","age":"(50, 60]","mo":6,"v":0.646},{"sym":"risk_factor","grp":"C","age":"(50, 60]","mo":7,"v":0.636},{"sym":"risk_factor","grp":"C","age":"(50, 60]","mo":8,"v":0.692},{"sym":"risk_factor","grp":"C","age":"(50, 60]","mo":9,"v":0.709},{"sym":"risk_factor","grp":"C","age":"(50, 60]","mo":10,"v":0.735},
{"sym":"risk_factor","grp":"C","age":"(60, 70]","mo":1,"v":0.721},{"sym":"risk_factor","grp":"C","age":"(60, 70]","mo":2,"v":0.744},{"sym":"risk_factor","grp":"C","age":"(60, 70]","mo":3,"v":0.735},{"sym":"risk_factor","grp":"C","age":"(60, 70]","mo":4,"v":0.718},{"sym":"risk_factor","grp":"C","age":"(60, 70]","mo":5,"v":0.732},{"sym":"risk_factor","grp":"C","age":"(60, 70]","mo":6,"v":0.752},{"sym":"risk_factor","grp":"C","age":"(60, 70]","mo":7,"v":0.778},{"sym":"risk_factor","grp":"C","age":"(60, 70]","mo":8,"v":0.778},{"sym":"risk_factor","grp":"C","age":"(60, 70]","mo":9,"v":0.795},{"sym":"risk_factor","grp":"C","age":"(60, 70]","mo":10,"v":0.812},
{"sym":"risk_factor","grp":"C","age":"(70, 80]","mo":1,"v":0.749},{"sym":"risk_factor","grp":"C","age":"(70, 80]","mo":2,"v":0.761},{"sym":"risk_factor","grp":"C","age":"(70, 80]","mo":3,"v":0.756},{"sym":"risk_factor","grp":"C","age":"(70, 80]","mo":4,"v":0.744},{"sym":"risk_factor","grp":"C","age":"(70, 80]","mo":5,"v":0.761},{"sym":"risk_factor","grp":"C","age":"(70, 80]","mo":6,"v":0.773},{"sym":"risk_factor","grp":"C","age":"(70, 80]","mo":7,"v":0.79},{"sym":"risk_factor","grp":"C","age":"(70, 80]","mo":8,"v":0.8},{"sym":"risk_factor","grp":"C","age":"(70, 80]","mo":9,"v":0.803},{"sym":"risk_factor","grp":"C","age":"(70, 80]","mo":10,"v":0.817},
{"sym":"risk_factor","grp":"C","age":"(80, 90]","mo":1,"v":0.752},{"sym":"risk_factor","grp":"C","age":"(80, 90]","mo":2,"v":0.778},{"sym":"risk_factor","grp":"C","age":"(80, 90]","mo":3,"v":0.773},{"sym":"risk_factor","grp":"C","age":"(80, 90]","mo":4,"v":0.749},{"sym":"risk_factor","grp":"C","age":"(80, 90]","mo":5,"v":0.766},{"sym":"risk_factor","grp":"C","age":"(80, 90]","mo":6,"v":0.783},{"sym":"risk_factor","grp":"C","age":"(80, 90]","mo":7,"v":0.795},{"sym":"risk_factor","grp":"C","age":"(80, 90]","mo":8,"v":0.803},{"sym":"risk_factor","grp":"C","age":"(80, 90]","mo":9,"v":0.803},{"sym":"risk_factor","grp":"C","age":"(80, 90]","mo":10,"v":0.821},
{"sym":"risk_factor","grp":"C","age":"(90, 100]","mo":1,"v":0.749},{"sym":"risk_factor","grp":"C","age":"(90, 100]","mo":2,"v":0.761},{"sym":"risk_factor","grp":"C","age":"(90, 100]","mo":3,"v":0.715},{"sym":"risk_factor","grp":"C","age":"(90, 100]","mo":4,"v":0.718},{"sym":"risk_factor","grp":"C","age":"(90, 100]","mo":5,"v":0.735},{"sym":"risk_factor","grp":"C","age":"(90, 100]","mo":6,"v":0.756},{"sym":"risk_factor","grp":"C","age":"(90, 100]","mo":7,"v":0.769},{"sym":"risk_factor","grp":"C","age":"(90, 100]","mo":8,"v":0.756},{"sym":"risk_factor","grp":"C","age":"(90, 100]","mo":9,"v":0.752},{"sym":"risk_factor","grp":"C","age":"(90, 100]","mo":10,"v":0.756},
{"sym":"risk_factor","grp":"N","age":"(0, 30]","mo":1,"v":0.525},{"sym":"risk_factor","grp":"N","age":"(0, 30]","mo":2,"v":0.576},{"sym":"risk_factor","grp":"N","age":"(0, 30]","mo":3,"v":0.542},{"sym":"risk_factor","grp":"N","age":"(0, 30]","mo":4,"v":0.53},{"sym":"risk_factor","grp":"N","age":"(0, 30]","mo":5,"v":0.53},{"sym":"risk_factor","grp":"N","age":"(0, 30]","mo":6,"v":0.542},{"sym":"risk_factor","grp":"N","age":"(0, 30]","mo":7,"v":0.611},{"sym":"risk_factor","grp":"N","age":"(0, 30]","mo":8,"v":0.571},{"sym":"risk_factor","grp":"N","age":"(0, 30]","mo":9,"v":0.588},{"sym":"risk_factor","grp":"N","age":"(0, 30]","mo":10,"v":0.588},
{"sym":"risk_factor","grp":"N","age":"(30, 40]","mo":1,"v":0.705},{"sym":"risk_factor","grp":"N","age":"(30, 40]","mo":2,"v":0.585},{"sym":"risk_factor","grp":"N","age":"(30, 40]","mo":3,"v":0.605},{"sym":"risk_factor","grp":"N","age":"(30, 40]","mo":4,"v":0.636},{"sym":"risk_factor","grp":"N","age":"(30, 40]","mo":5,"v":0.636},{"sym":"risk_factor","grp":"N","age":"(30, 40]","mo":6,"v":0.605},{"sym":"risk_factor","grp":"N","age":"(30, 40]","mo":7,"v":0.645},{"sym":"risk_factor","grp":"N","age":"(30, 40]","mo":8,"v":0.623},{"sym":"risk_factor","grp":"N","age":"(30, 40]","mo":9,"v":0.623},{"sym":"risk_factor","grp":"N","age":"(30, 40]","mo":10,"v":0.702},
{"sym":"risk_factor","grp":"N","age":"(40, 50]","mo":1,"v":0.679},{"sym":"risk_factor","grp":"N","age":"(40, 50]","mo":2,"v":0.702},{"sym":"risk_factor","grp":"N","age":"(40, 50]","mo":3,"v":0.667},{"sym":"risk_factor","grp":"N","age":"(40, 50]","mo":4,"v":0.645},{"sym":"risk_factor","grp":"N","age":"(40, 50]","mo":5,"v":0.645},{"sym":"risk_factor","grp":"N","age":"(40, 50]","mo":6,"v":0.623},{"sym":"risk_factor","grp":"N","age":"(40, 50]","mo":7,"v":0.667},{"sym":"risk_factor","grp":"N","age":"(40, 50]","mo":8,"v":0.705},{"sym":"risk_factor","grp":"N","age":"(40, 50]","mo":9,"v":0.696},{"sym":"risk_factor","grp":"N","age":"(40, 50]","mo":10,"v":0.748},
{"sym":"risk_factor","grp":"N","age":"(50, 60]","mo":1,"v":0.748},{"sym":"risk_factor","grp":"N","age":"(50, 60]","mo":2,"v":0.748},{"sym":"risk_factor","grp":"N","age":"(50, 60]","mo":3,"v":0.731},{"sym":"risk_factor","grp":"N","age":"(50, 60]","mo":4,"v":0.705},{"sym":"risk_factor","grp":"N","age":"(50, 60]","mo":5,"v":0.696},{"sym":"risk_factor","grp":"N","age":"(50, 60]","mo":6,"v":0.736},{"sym":"risk_factor","grp":"N","age":"(50, 60]","mo":7,"v":0.739},{"sym":"risk_factor","grp":"N","age":"(50, 60]","mo":8,"v":0.743},{"sym":"risk_factor","grp":"N","age":"(50, 60]","mo":9,"v":0.731},{"sym":"risk_factor","grp":"N","age":"(50, 60]","mo":10,"v":0.787},
{"sym":"risk_factor","grp":"N","age":"(60, 70]","mo":1,"v":0.765},{"sym":"risk_factor","grp":"N","age":"(60, 70]","mo":2,"v":0.756},{"sym":"risk_factor","grp":"N","age":"(60, 70]","mo":3,"v":0.731},{"sym":"risk_factor","grp":"N","age":"(60, 70]","mo":4,"v":0.743},{"sym":"risk_factor","grp":"N","age":"(60, 70]","mo":5,"v":0.743},{"sym":"risk_factor","grp":"N","age":"(60, 70]","mo":6,"v":0.76},{"sym":"risk_factor","grp":"N","age":"(60, 70]","mo":7,"v":0.756},{"sym":"risk_factor","grp":"N","age":"(60, 70]","mo":8,"v":0.777},{"sym":"risk_factor","grp":"N","age":"(60, 70]","mo":9,"v":0.794},{"sym":"risk_factor","grp":"N","age":"(60, 70]","mo":10,"v":0.799},
{"sym":"risk_factor","grp":"N","age":"(70, 80]","mo":1,"v":0.782},{"sym":"risk_factor","grp":"N","age":"(70, 80]","mo":2,"v":0.774},{"sym":"risk_factor","grp":"N","age":"(70, 80]","mo":3,"v":0.76},{"sym":"risk_factor","grp":"N","age":"(70, 80]","mo":4,"v":0.76},{"sym":"risk_factor","grp":"N","age":"(70, 80]","mo":5,"v":0.791},{"sym":"risk_factor","grp":"N","age":"(70, 80]","mo":6,"v":0.765},{"sym":"risk_factor","grp":"N","age":"(70, 80]","mo":7,"v":0.777},{"sym":"risk_factor","grp":"N","age":"(70, 80]","mo":8,"v":0.811},{"sym":"risk_factor","grp":"N","age":"(70, 80]","mo":9,"v":0.799},{"sym":"risk_factor","grp":"N","age":"(70, 80]","mo":10,"v":0.808},
{"sym":"risk_factor","grp":"N","age":"(80, 90]","mo":1,"v":0.777},{"sym":"risk_factor","grp":"N","age":"(80, 90]","mo":2,"v":0.765},{"sym":"risk_factor","grp":"N","age":"(80, 90]","mo":3,"v":0.756},{"sym":"risk_factor","grp":"N","age":"(80, 90]","mo":4,"v":0.753},{"sym":"risk_factor","grp":"N","age":"(80, 90]","mo":5,"v":0.76},{"sym":"risk_factor","grp":"N","age":"(80, 90]","mo":6,"v":0.794},{"sym":"risk_factor","grp":"N","age":"(80, 90]","mo":7,"v":0.777},{"sym":"risk_factor","grp":"N","age":"(80, 90]","mo":8,"v":0.787},{"sym":"risk_factor","grp":"N","age":"(80, 90]","mo":9,"v":0.799},{"sym":"risk_factor","grp":"N","age":"(80, 90]","mo":10,"v":0.816},
{"sym":"risk_factor","grp":"N","age":"(90, 100]","mo":1,"v":0.743},{"sym":"risk_factor","grp":"N","age":"(90, 100]","mo":2,"v":0.719},{"sym":"risk_factor","grp":"N","age":"(90, 100]","mo":3,"v":0.753},{"sym":"risk_factor","grp":"N","age":"(90, 100]","mo":4,"v":0.691},{"sym":"risk_factor","grp":"N","age":"(90, 100]","mo":5,"v":0.688},{"sym":"risk_factor","grp":"N","age":"(90, 100]","mo":6,"v":0.726},{"sym":"risk_factor","grp":"N","age":"(90, 100]","mo":7,"v":0.726},{"sym":"risk_factor","grp":"N","age":"(90, 100]","mo":8,"v":0.739},{"sym":"risk_factor","grp":"N","age":"(90, 100]","mo":9,"v":0.765},{"sym":"risk_factor","grp":"N","age":"(90, 100]","mo":10,"v":0.825}
]},
"vconcat":[
{"data":{"name":"syms"},
 "facet":{"column":{"field":"sym","type":"nominal","sort":["fever","cough","dyspnea","discomfort_respiratory","fatigue","loss_smell","risk_factor"],"header":null}},
 "spacing":6,
 "bounds":"flush",
 "spec":{"width":140,"height":18,"view":{"fill":"#d9d9d9","stroke":"#333333","strokeWidth":1},
  "mark":{"type":"text","font":"Liberation Sans","fontSize":9.5,"fontWeight":"bold","color":"#1a1a1a"},
  "encoding":{
   "text":{"field":"sym","type":"nominal"},
   "y":{"datum":0.5,"type":"quantitative","scale":{"domain":[0,1]},"axis":{"values":[0.5],"labelExpr":"'0.8'","labelOpacity":0,"tickOpacity":0,"grid":false}}
  }}},
{"hconcat":[
 {"data":{"name":"d"},
  "facet":{"row":{"field":"grp","type":"nominal","sort":["C","N"],"header":null},
           "column":{"field":"sym","type":"nominal","sort":["fever","cough","dyspnea","discomfort_respiratory","fatigue","loss_smell","risk_factor"],"header":null}},
  "spacing":{"row":7,"column":6},
  "bounds":"flush",
  "spec":{"width":140,"height":177,
   "encoding":{
    "x":{"field":"mo","type":"quantitative","scale":{"domain":[0.55,10.45],"nice":false,"zero":false},
         "axis":{"values":[1,3,5,7,9],"labelExpr":"datum.value==1?'Jan':datum.value==5?'May':datum.value==9?'Sep':''","tickOpacity":{"condition":{"test":"datum.value%4==1","value":1},"value":0},"labelFlush":false}},
    "y":{"field":"v","type":"quantitative","scale":{"domain":[-0.041,0.862],"nice":false,"zero":false},
         "axis":{"values":[0,0.1,0.2,0.3,0.4,0.5,0.6,0.7,0.8],"labelExpr":"round(datum.value*10)%2==0?format(datum.value,'.1f'):''","tickOpacity":{"condition":{"test":"round(datum.value*10)%2==0","value":1},"value":0},"labelFlush":false}},
    "color":{"field":"age","type":"nominal","title":"Age Groups",
         "scale":{"domain":["(0, 30]","(30, 40]","(40, 50]","(50, 60]","(60, 70]","(70, 80]","(80, 90]","(90, 100]"],"range":["#F6D746","#FCA50A","#F37819","#DD513A","#BC3754","#932667","#6A176E","#420A68"]},
         "legend":{"orient":"none","legendX":224,"legendY":426,"direction":"horizontal","symbolType":"M-1,0L1,0M0.2,0A0.2,0.2,0,1,1,-0.2,0A0.2,0.2,0,1,1,0.2,0","symbolSize":225,"symbolStrokeWidth":1.3}}
   },
   "layer":[
    {"mark":{"type":"line","strokeWidth":1.1,"opacity":0.9}},
    {"mark":{"type":"point","filled":true,"size":25,"opacity":0.6},"encoding":{"color":{"field":"age","type":"nominal","legend":null}}}
   ]}},
 {"data":{"name":"grps"},
  "facet":{"row":{"field":"grp","type":"nominal","sort":["C","N"],"header":null}},
  "spacing":7,
  "bounds":"flush",
  "spec":{"width":13,"height":177,"view":{"fill":"#d9d9d9","stroke":"#333333","strokeWidth":1},
   "mark":{"type":"text","angle":90,"font":"Liberation Sans","fontSize":9.5,"fontWeight":"bold","color":"#1a1a1a"},
   "encoding":{"text":{"field":"label","type":"nominal"}}}}
 ],"spacing":1}
],
"config":{
 "font":"Liberation Sans",
 "background":"white",
 "view":{"stroke":"#333333","strokeWidth":1},
 "axis":{"domain":false,"grid":true,"gridColor":"#ebebeb","gridWidth":1,"tickColor":"#333333","tickSize":3,"labelColor":"#4d4d4d","labelFontSize":8,"labelFont":"Liberation Sans","labelPadding":2,"title":null},
 "legend":{"titleOrient":"left","titleFontSize":10.5,"titleFontWeight":"normal","titleColor":"#000000","titleFont":"Liberation Sans","labelFont":"Liberation Sans","labelFontSize":8.5,"labelColor":"#1a1a1a","columnPadding":11,"labelOffset":8,"titlePadding":9}
}
}
